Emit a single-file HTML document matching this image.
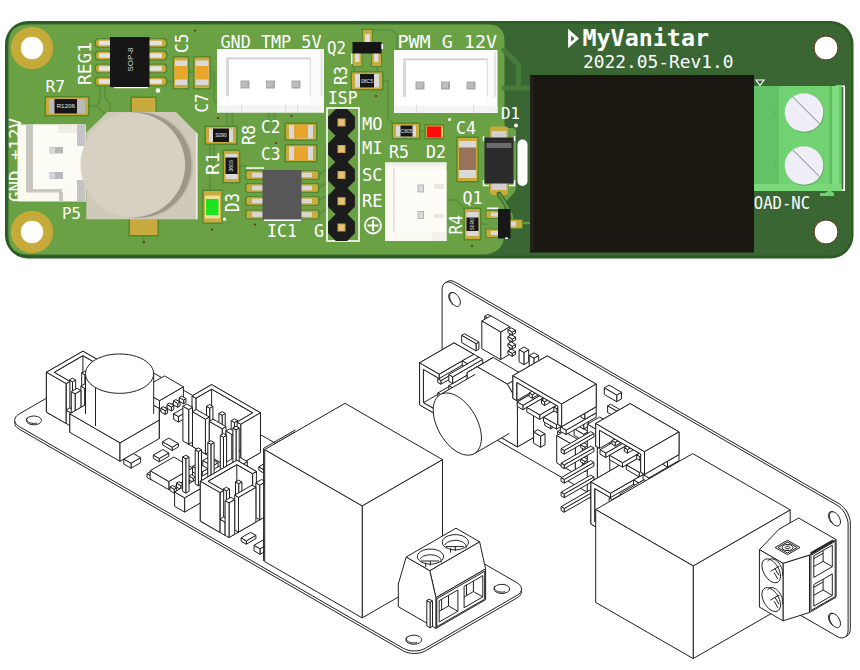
<!DOCTYPE html>
<html lang="en"><head><meta charset="utf-8"><title>MyVanitar PCB</title>
<style>
html,body{margin:0;padding:0;background:#fff;}
body{width:860px;height:670px;overflow:hidden;font-family:"Liberation Sans",sans-serif;}
svg{display:block;position:absolute;left:0;top:0;}
</style></head><body>
<svg width="860" height="670" viewBox="0 0 860 670">
<rect x="5" y="21" width="848.5" height="237.5" fill="#2b5c23" rx="23"/>
<rect x="7.5" y="23.5" width="843.5" height="232" fill="#3a6634" rx="20.5"/>
<path d="M28 24.5 H488 Q504.5 24.5 504.5 41 V124 Q504.5 128 509 128 H512 Q516 128 516 132 V186 Q516 192 511 196 L506.5 201 Q504.5 203 504.5 208 V232 Q504.5 254.5 482 254.5 H28 Q8.5 254.5 8.5 235 V44 Q8.5 24.5 28 24.5Z" fill="#6aa145"/>
<path d="M504 50 L518.5 65 V86 M504 88 H530" fill="none" stroke="#487c3b" stroke-width="5" stroke-linecap="round" stroke-linejoin="round"/>
<path d="M227 113 V127 M232.5 113 V127" fill="none" stroke="#5b9340" stroke-width="2.2" stroke-linecap="round" stroke-linejoin="round"/>
<path d="M269 113 V122 M274.5 113 V122 M269 122 Q262 126 268 131" fill="none" stroke="#5b9340" stroke-width="2.2" stroke-linecap="round" stroke-linejoin="round"/>
<path d="M210 143.5 V190 M214 143.5 V165" fill="none" stroke="#5b9340" stroke-width="2.2" stroke-linecap="round" stroke-linejoin="round"/>
<path d="M236 166 H246 V175" fill="none" stroke="#5b9340" stroke-width="2.2" stroke-linecap="round" stroke-linejoin="round"/>
<path d="M318 175 L326 170 V150 M318 188 L328 182 M318 201 L330 194 M318 214.5 L332 206" fill="none" stroke="#5b9340" stroke-width="2.2" stroke-linecap="round" stroke-linejoin="round"/>
<path d="M88 106 H97 L104 113 M100 86 V100 L97 106 M105 86 V98 L110 104 V112" fill="none" stroke="#5b9340" stroke-width="2.2" stroke-linecap="round" stroke-linejoin="round"/>
<path d="M166 81.5 H174 M188 72 H194.5" fill="none" stroke="#5b9340" stroke-width="2.2" stroke-linecap="round" stroke-linejoin="round"/>
<path d="M209.5 72 H214 V100 L218 104" fill="none" stroke="#5b9340" stroke-width="2.2" stroke-linecap="round" stroke-linejoin="round"/>
<path d="M367.5 30 H392 L397 35 V50" fill="none" stroke="#5b9340" stroke-width="2.2" stroke-linecap="round" stroke-linejoin="round"/>
<path d="M382 81 H388 V118 L393 124" fill="none" stroke="#5b9340" stroke-width="2.2" stroke-linecap="round" stroke-linejoin="round"/>
<path d="M354 66 V72 M377 66 V72" fill="none" stroke="#5b9340" stroke-width="2.2" stroke-linecap="round" stroke-linejoin="round"/>
<path d="M419 131 H426" fill="none" stroke="#5b9340" stroke-width="2.2" stroke-linecap="round" stroke-linejoin="round"/>
<path d="M446.5 200 H456 L465 209" fill="none" stroke="#5b9340" stroke-width="2.2" stroke-linecap="round" stroke-linejoin="round"/>
<path d="M480 224 H487" fill="none" stroke="#5b9340" stroke-width="2.2" stroke-linecap="round" stroke-linejoin="round"/>
<path d="M143.5 235 V244" fill="none" stroke="#5b9340" stroke-width="2.2" stroke-linecap="round" stroke-linejoin="round"/>
<circle cx="291.5" cy="116" r="1.1" fill="#6e2a1c"/>
<circle cx="276" cy="143" r="1.1" fill="#6e2a1c"/>
<circle cx="255" cy="224.5" r="1.1" fill="#6e2a1c"/>
<circle cx="212" cy="229.5" r="1.1" fill="#6e2a1c"/>
<circle cx="195" cy="30.5" r="1.1" fill="#6e2a1c"/>
<circle cx="376" cy="96" r="1.1" fill="#6e2a1c"/>
<circle cx="144" cy="242" r="1.1" fill="#6e2a1c"/>
<circle cx="472" cy="246" r="1.1" fill="#6e2a1c"/>
<circle cx="250" cy="133" r="1.1" fill="#6e2a1c"/>
<circle cx="218" cy="118" r="1.1" fill="#6e2a1c"/>
<circle cx="32" cy="48" r="21.2" fill="#c7ab3a"/>
<circle cx="32" cy="48" r="11.2" fill="#ffffff"/>
<circle cx="826" cy="48" r="12" fill="#ffffff" stroke="#5b3018" stroke-width="1"/>
<circle cx="32" cy="232" r="21.2" fill="#c7ab3a"/>
<circle cx="32" cy="232" r="11.2" fill="#ffffff"/>
<circle cx="826" cy="232" r="12" fill="#ffffff" stroke="#5b3018" stroke-width="1"/>
<rect x="94.5" y="38" width="16.5" height="10" fill="#55872f" rx="4"/>
<rect x="148" y="38" width="19.5" height="10" fill="#55872f" rx="4"/>
<rect x="96" y="39.3" width="15" height="7.4" fill="#c9aa3c" rx="3.5"/>
<rect x="148" y="39.3" width="18" height="7.4" fill="#c9aa3c" rx="3.5"/>
<rect x="99" y="40.7" width="12" height="4.6" fill="#e4e4e4" rx="1"/>
<rect x="148" y="40.7" width="14" height="4.6" fill="#e4e4e4" rx="1"/>
<rect x="94.5" y="50.5" width="16.5" height="10" fill="#55872f" rx="4"/>
<rect x="148" y="50.5" width="19.5" height="10" fill="#55872f" rx="4"/>
<rect x="96" y="51.8" width="15" height="7.4" fill="#c9aa3c" rx="3.5"/>
<rect x="148" y="51.8" width="18" height="7.4" fill="#c9aa3c" rx="3.5"/>
<rect x="99" y="53.2" width="12" height="4.6" fill="#e4e4e4" rx="1"/>
<rect x="148" y="53.2" width="14" height="4.6" fill="#e4e4e4" rx="1"/>
<rect x="94.5" y="63.5" width="16.5" height="10" fill="#55872f" rx="4"/>
<rect x="148" y="63.5" width="19.5" height="10" fill="#55872f" rx="4"/>
<rect x="96" y="64.8" width="15" height="7.4" fill="#c9aa3c" rx="3.5"/>
<rect x="148" y="64.8" width="18" height="7.4" fill="#c9aa3c" rx="3.5"/>
<rect x="99" y="66.2" width="12" height="4.6" fill="#e4e4e4" rx="1"/>
<rect x="148" y="66.2" width="14" height="4.6" fill="#e4e4e4" rx="1"/>
<rect x="94.5" y="76.5" width="16.5" height="10" fill="#55872f" rx="4"/>
<rect x="148" y="76.5" width="19.5" height="10" fill="#55872f" rx="4"/>
<rect x="96" y="77.8" width="15" height="7.4" fill="#c9aa3c" rx="3.5"/>
<rect x="148" y="77.8" width="18" height="7.4" fill="#c9aa3c" rx="3.5"/>
<rect x="99" y="79.2" width="12" height="4.6" fill="#e4e4e4" rx="1"/>
<rect x="148" y="79.2" width="14" height="4.6" fill="#e4e4e4" rx="1"/>
<rect x="110" y="37" width="39.5" height="50" fill="#161616"/>
<rect x="114" y="87" width="34" height="1.2" fill="#ffffff"/>
<text x="130" y="59.5" font-size="7" fill="#d0d0d0" text-anchor="middle" font-family="'Liberation Sans',sans-serif" transform="rotate(-90 130 59.5)" dy="2.8" style="font-size:8px">SOP-8</text>
<circle cx="158" cy="90.5" r="2.3" fill="#ffffff"/>
<text x="90.5" y="85" font-size="18.5185" fill="#fff" font-family="'DejaVu Sans Mono','Liberation Mono',monospace" font-weight="normal" text-anchor="start" transform="rotate(-90 90.5 85)" textLength="43" lengthAdjust="spacingAndGlyphs">REG1</text>
<rect x="172.5" y="56" width="17" height="33.5" fill="#55872f" rx="1"/>
<rect x="174" y="57.5" width="14" height="30.5" fill="#c9aa3c" rx="1"/>
<rect x="175" y="60.5" width="12" height="24.5" fill="#d9d9d9"/>
<rect x="175" y="66" width="12" height="13.5" fill="#e8a52c"/>
<rect x="193" y="56" width="18" height="33.5" fill="#55872f" rx="1"/>
<rect x="194.5" y="57.5" width="15" height="30.5" fill="#c9aa3c" rx="1"/>
<rect x="195.5" y="60.5" width="13" height="24.5" fill="#d9d9d9"/>
<rect x="195.5" y="66" width="13" height="13.5" fill="#e8a52c"/>
<text x="187.5" y="53" font-size="17.1468" fill="#fff" font-family="'DejaVu Sans Mono','Liberation Mono',monospace" font-weight="normal" text-anchor="start" transform="rotate(-90 187.5 53)" textLength="19.5" lengthAdjust="spacingAndGlyphs">C5</text>
<text x="208" y="112.5" font-size="17.8326" fill="#fff" font-family="'DejaVu Sans Mono','Liberation Mono',monospace" font-weight="normal" text-anchor="start" transform="rotate(-90 208 112.5)" textLength="19" lengthAdjust="spacingAndGlyphs">C7</text>
<text x="45.5" y="92" font-size="16.4609" fill="#fff" font-family="'DejaVu Sans Mono','Liberation Mono',monospace" font-weight="normal" text-anchor="start" textLength="19.5" lengthAdjust="spacingAndGlyphs">R7</text>
<rect x="44.5" y="96" width="45" height="20.5" fill="#55872f" rx="1"/>
<rect x="46" y="97.5" width="42" height="17.5" fill="#c9aa3c" rx="1"/>
<rect x="49" y="99" width="36" height="14.5" fill="#b9b9b9"/>
<rect x="54.5" y="99" width="22.5" height="14.5" fill="#161616"/>
<text x="65.75" y="108.482" font-size="6.2" fill="#e8e8e8" font-family="'Liberation Sans',sans-serif" font-weight="normal" text-anchor="middle">R1206</text>
<text x="20.5" y="202" font-size="15.0892" fill="#fff" font-family="'DejaVu Sans Mono','Liberation Mono',monospace" font-weight="normal" text-anchor="start" transform="rotate(-90 20.5 202)" textLength="84" lengthAdjust="spacingAndGlyphs">GND +12V</text>
<rect x="17.5" y="124.5" width="68.5" height="77" fill="#fbfaf0"/>
<rect x="26" y="124.5" width="7" height="67.5" fill="#c9c8c0"/>
<rect x="26" y="189" width="36" height="3.5" fill="#c9c8c0"/>
<rect x="59" y="192" width="4" height="9.5" fill="#c9c8c0"/>
<rect x="33" y="124.5" width="47" height="64.5" fill="#fdfcf4"/>
<rect x="58" y="124.5" width="26" height="8.5" fill="#efeee6"/>
<rect x="77" y="124.5" width="8.5" height="21.5" fill="#c4c4c4"/>
<rect x="77" y="180" width="8.5" height="21" fill="#c4c4c4"/>
<rect x="49.5" y="147" width="13.5" height="6.5" fill="#b8b8b8"/>
<rect x="50" y="147.5" width="5" height="5.5" fill="#d6d6da"/>
<rect x="49.5" y="172" width="13.5" height="7" fill="#b8b8b8"/>
<rect x="50" y="172.5" width="5" height="6" fill="#d6d6da"/>
<text x="62" y="218.5" font-size="16.4609" fill="#fff" font-family="'DejaVu Sans Mono','Liberation Mono',monospace" font-weight="normal" text-anchor="start" textLength="19" lengthAdjust="spacingAndGlyphs">P5</text>
<rect x="130.5" y="96.5" width="26.5" height="16.5" fill="#55872f"/>
<rect x="132" y="98" width="23.5" height="15" fill="#c9aa3c"/>
<rect x="128.5" y="219" width="30.5" height="17.5" fill="#55872f"/>
<rect x="130" y="219" width="27.5" height="16" fill="#c9aa3c"/>
<path d="M86.3 219.3 V132.5 L107.5 112 H176 L197.5 133.7 V219.3Z" fill="#cfc9ba"/>
<path d="M195.8 132 L197.5 133.7 V219.3 H195.8Z" fill="#ece8dc"/>
<circle cx="140" cy="165" r="53" fill="#bcb6a6"/>
<circle cx="138.6" cy="165" r="52.6" fill="#9d9786"/>
<circle cx="132.8" cy="165" r="52.3" fill="#d7d1c3"/>
<rect x="204.5" y="125.5" width="33" height="19.5" fill="#55872f" rx="1"/>
<rect x="206" y="127" width="30" height="16.5" fill="#c9aa3c" rx="1"/>
<rect x="209" y="128.5" width="24" height="13.5" fill="#d9d9d9"/>
<rect x="213" y="128.5" width="16" height="13.5" fill="#161616"/>
<text x="221" y="137.05" font-size="5" fill="#e8e8e8" font-family="'Liberation Sans',sans-serif" font-weight="normal" text-anchor="middle">S090</text>
<text x="254.5" y="145" font-size="18.5185" fill="#fff" font-family="'DejaVu Sans Mono','Liberation Mono',monospace" font-weight="normal" text-anchor="start" transform="rotate(-90 254.5 145)" textLength="20" lengthAdjust="spacingAndGlyphs">R8</text>
<rect x="222.5" y="149.5" width="18" height="34" fill="#55872f" rx="1"/>
<rect x="224" y="151" width="15" height="31" fill="#c9aa3c" rx="1"/>
<rect x="225.5" y="154" width="12" height="25" fill="#d9d9d9"/>
<rect x="225.5" y="157.5" width="12" height="16.5" fill="#161616"/>
<text x="231.5" y="165.75" font-size="5" fill="#e8e8e8" text-anchor="middle" font-family="'Liberation Sans',sans-serif" transform="rotate(-90 231.5 165.75)" dy="1.8">360S</text>
<text x="219" y="175" font-size="17.8326" fill="#fff" font-family="'DejaVu Sans Mono','Liberation Mono',monospace" font-weight="normal" text-anchor="start" transform="rotate(-90 219 175)" textLength="23" lengthAdjust="spacingAndGlyphs">R1</text>
<rect x="202" y="189.5" width="20.5" height="34.5" fill="#55872f"/>
<rect x="203.5" y="191" width="18" height="31.5" fill="#c9aa3c"/>
<rect x="205" y="195.5" width="15" height="23" fill="#eadf9a"/>
<rect x="206" y="199" width="12.5" height="16" fill="#1fe31f"/>
<text x="238.5" y="212" font-size="19.2044" fill="#fff" font-family="'DejaVu Sans Mono','Liberation Mono',monospace" font-weight="normal" text-anchor="start" transform="rotate(-90 238.5 212)" textLength="19" lengthAdjust="spacingAndGlyphs">D3</text>
<circle cx="224.5" cy="219.2" r="1.6" fill="#ffffff"/>
<text x="220.5" y="47.5" font-size="17.1468" fill="#fff" font-family="'DejaVu Sans Mono','Liberation Mono',monospace" font-weight="normal" text-anchor="start" textLength="101" lengthAdjust="spacingAndGlyphs">GND TMP 5V</text>
<rect x="217" y="49" width="107" height="63.5" fill="#fbfbfb"/>
<rect x="226" y="57.5" width="85" height="2" fill="#cfcfcf"/>
<rect x="226" y="57.5" width="3" height="39" fill="#d9d9d9"/>
<rect x="309.5" y="57.5" width="1.5" height="39" fill="#e2e2e2"/>
<rect x="320.5" y="51" width="2" height="45.5" fill="#e4e4e4"/>
<rect x="229" y="59.5" width="80.5" height="45" fill="#ffffff"/>
<rect x="220" y="96.5" width="8" height="9" fill="#ffffff"/>
<rect x="240.5" y="80.5" width="9" height="8" fill="#a9a9a9"/>
<rect x="241.5" y="81.5" width="6" height="5.5" fill="#bdbdbd"/>
<rect x="266" y="80.5" width="9" height="8" fill="#a9a9a9"/>
<rect x="267" y="81.5" width="6" height="5.5" fill="#bdbdbd"/>
<rect x="291.5" y="80.5" width="9" height="8" fill="#a9a9a9"/>
<rect x="292.5" y="81.5" width="6" height="5.5" fill="#bdbdbd"/>
<rect x="217" y="105.5" width="107" height="7" fill="#f4f4f4"/>
<rect x="241" y="104" width="1.2" height="8.5" fill="#e0e0e0"/>
<rect x="285" y="104" width="1.2" height="8.5" fill="#e0e0e0"/>
<rect x="297" y="104" width="1.2" height="8.5" fill="#e0e0e0"/>
<text x="397.5" y="47.5" font-size="17.1468" fill="#fff" font-family="'DejaVu Sans Mono','Liberation Mono',monospace" font-weight="normal" text-anchor="start" textLength="99.5" lengthAdjust="spacingAndGlyphs">PWM G 12V</text>
<rect x="394" y="50" width="103.5" height="63" fill="#fbfbfb"/>
<rect x="403" y="58.5" width="85" height="2" fill="#cfcfcf"/>
<rect x="403" y="58.5" width="3" height="38.5" fill="#d9d9d9"/>
<rect x="486.5" y="58.5" width="1.5" height="38.5" fill="#e2e2e2"/>
<rect x="494" y="52" width="2" height="45" fill="#e4e4e4"/>
<rect x="406" y="60.5" width="80.5" height="44.5" fill="#ffffff"/>
<rect x="397" y="97" width="8" height="9" fill="#ffffff"/>
<rect x="415.5" y="81.5" width="9" height="8" fill="#a9a9a9"/>
<rect x="416.5" y="82.5" width="6" height="5.5" fill="#bdbdbd"/>
<rect x="441" y="81.5" width="9" height="8" fill="#a9a9a9"/>
<rect x="442" y="82.5" width="6" height="5.5" fill="#bdbdbd"/>
<rect x="466.5" y="81.5" width="9" height="8" fill="#a9a9a9"/>
<rect x="467.5" y="82.5" width="6" height="5.5" fill="#bdbdbd"/>
<rect x="394" y="106" width="103.5" height="7" fill="#f4f4f4"/>
<rect x="416" y="105" width="1.2" height="8" fill="#e0e0e0"/>
<rect x="473" y="105" width="1.2" height="8" fill="#e0e0e0"/>
<text x="327" y="53.5" font-size="17.1468" fill="#fff" font-family="'DejaVu Sans Mono','Liberation Mono',monospace" font-weight="normal" text-anchor="start" textLength="19" lengthAdjust="spacingAndGlyphs">Q2</text>
<rect x="362" y="29" width="11" height="15" fill="#55872f"/>
<rect x="363" y="30" width="9" height="13" fill="#c9aa3c"/>
<rect x="352" y="51" width="10.5" height="16" fill="#55872f"/>
<rect x="353" y="52" width="8.5" height="14" fill="#c9aa3c"/>
<rect x="371" y="51" width="11" height="16" fill="#55872f"/>
<rect x="372" y="52" width="9" height="14" fill="#c9aa3c"/>
<rect x="365" y="34" width="5" height="8" fill="#dedede"/>
<rect x="355" y="53" width="4.5" height="9" fill="#dedede"/>
<rect x="374" y="53" width="4.5" height="9" fill="#dedede"/>
<rect x="352.5" y="42" width="29" height="11.5" fill="#151515"/>
<rect x="351" y="53.5" width="1.5" height="10.5" fill="#ffffff"/>
<rect x="381.5" y="44" width="1.5" height="5" fill="#ffffff"/>
<text x="347" y="85" font-size="18.5185" fill="#fff" font-family="'DejaVu Sans Mono','Liberation Mono',monospace" font-weight="normal" text-anchor="start" transform="rotate(-90 347 85)" textLength="19" lengthAdjust="spacingAndGlyphs">R3</text>
<rect x="350.5" y="71" width="33" height="19.5" fill="#55872f" rx="1"/>
<rect x="352" y="72.5" width="30" height="16.5" fill="#c9aa3c" rx="1"/>
<rect x="355" y="74" width="24" height="13.5" fill="#d9d9d9"/>
<rect x="360" y="74" width="14" height="13.5" fill="#161616"/>
<text x="367" y="82.55" font-size="5" fill="#e8e8e8" font-family="'Liberation Sans',sans-serif" font-weight="normal" text-anchor="middle">08C5</text>
<text x="328" y="104" font-size="17.1468" fill="#fff" font-family="'DejaVu Sans Mono','Liberation Mono',monospace" font-weight="normal" text-anchor="start" textLength="29.5" lengthAdjust="spacingAndGlyphs">ISP</text>
<rect x="327" y="108" width="32" height="133" fill="none" stroke="#ffffff" stroke-width="1.6"/>
<path d="M335.872 109.1 H347.128 L354.9 116.872 V128.128 L347.128 135.9 H335.872 L328.1 128.128 V116.872Z" fill="#1c1c1c"/>
<path d="M335.872 135.6 H347.128 L354.9 143.372 V154.628 L347.128 162.4 H335.872 L328.1 154.628 V143.372Z" fill="#1c1c1c"/>
<path d="M335.872 161.6 H347.128 L354.9 169.372 V180.628 L347.128 188.4 H335.872 L328.1 180.628 V169.372Z" fill="#1c1c1c"/>
<path d="M335.872 187.8 H347.128 L354.9 195.572 V206.828 L347.128 214.6 H335.872 L328.1 206.828 V195.572Z" fill="#1c1c1c"/>
<path d="M335.872 214.1 H347.128 L354.9 221.872 V233.128 L347.128 240.9 H335.872 L328.1 233.128 V221.872Z" fill="#1c1c1c"/>
<rect x="337.5" y="118.5" width="8" height="8" fill="#c9a24e"/>
<rect x="338.5" y="119.5" width="6" height="6" fill="#e3c27a"/>
<rect x="337.5" y="145" width="8" height="8" fill="#c9a24e"/>
<rect x="338.5" y="146" width="6" height="6" fill="#e3c27a"/>
<rect x="337.5" y="171" width="8" height="8" fill="#c9a24e"/>
<rect x="338.5" y="172" width="6" height="6" fill="#e3c27a"/>
<rect x="337.5" y="197.2" width="8" height="8" fill="#c9a24e"/>
<rect x="338.5" y="198.2" width="6" height="6" fill="#e3c27a"/>
<rect x="337.5" y="223.5" width="8" height="8" fill="#c9a24e"/>
<rect x="338.5" y="224.5" width="6" height="6" fill="#e3c27a"/>
<text x="362" y="129.5" font-size="17.1468" fill="#fff" font-family="'DejaVu Sans Mono','Liberation Mono',monospace" font-weight="normal" text-anchor="start" textLength="20.5" lengthAdjust="spacingAndGlyphs">MO</text>
<text x="362" y="154" font-size="17.1468" fill="#fff" font-family="'DejaVu Sans Mono','Liberation Mono',monospace" font-weight="normal" text-anchor="start" textLength="20.5" lengthAdjust="spacingAndGlyphs">MI</text>
<text x="362" y="180.5" font-size="17.1468" fill="#fff" font-family="'DejaVu Sans Mono','Liberation Mono',monospace" font-weight="normal" text-anchor="start" textLength="20.5" lengthAdjust="spacingAndGlyphs">SC</text>
<text x="362" y="206.5" font-size="17.1468" fill="#fff" font-family="'DejaVu Sans Mono','Liberation Mono',monospace" font-weight="normal" text-anchor="start" textLength="20.5" lengthAdjust="spacingAndGlyphs">RE</text>
<text x="314" y="237" font-size="17.1468" fill="#fff" font-family="'DejaVu Sans Mono','Liberation Mono',monospace" font-weight="normal" text-anchor="start" textLength="10" lengthAdjust="spacingAndGlyphs">G</text>
<circle cx="373" cy="225.5" r="8" fill="none" stroke="#fff" stroke-width="1.8"/><path d="M367.5 225.5 H378.5 M373 220 V231" stroke="#fff" stroke-width="1.8" fill="none"/>
<text x="261" y="133" font-size="17.1468" fill="#fff" font-family="'DejaVu Sans Mono','Liberation Mono',monospace" font-weight="normal" text-anchor="start" textLength="19.5" lengthAdjust="spacingAndGlyphs">C2</text>
<text x="261" y="160" font-size="17.1468" fill="#fff" font-family="'DejaVu Sans Mono','Liberation Mono',monospace" font-weight="normal" text-anchor="start" textLength="19.5" lengthAdjust="spacingAndGlyphs">C3</text>
<rect x="284.5" y="122.5" width="33" height="18.5" fill="#55872f" rx="1"/>
<rect x="286" y="124" width="30" height="15.5" fill="#c9aa3c" rx="1"/>
<rect x="289" y="125" width="24" height="13.5" fill="#d9d9d9"/>
<rect x="294" y="125" width="14" height="13.5" fill="#e8a52c"/>
<rect x="284.5" y="144" width="33" height="18.5" fill="#55872f" rx="1"/>
<rect x="286" y="145.5" width="30" height="15.5" fill="#c9aa3c" rx="1"/>
<rect x="289" y="146.5" width="24" height="13.5" fill="#d9d9d9"/>
<rect x="294" y="146.5" width="14" height="13.5" fill="#e8a52c"/>
<rect x="245" y="170" width="18" height="10" fill="#55872f" rx="2"/>
<rect x="300" y="170" width="19.5" height="10" fill="#55872f" rx="2"/>
<rect x="246.5" y="171.3" width="16.5" height="7.4" fill="#c9aa3c" rx="1.5"/>
<rect x="300" y="171.3" width="18" height="7.4" fill="#c9aa3c" rx="1.5"/>
<rect x="252" y="172.7" width="11" height="4.6" fill="#d8d8d8"/>
<rect x="300" y="172.7" width="12" height="4.6" fill="#d8d8d8"/>
<rect x="245" y="183" width="18" height="10" fill="#55872f" rx="2"/>
<rect x="300" y="183" width="19.5" height="10" fill="#55872f" rx="2"/>
<rect x="246.5" y="184.3" width="16.5" height="7.4" fill="#c9aa3c" rx="1.5"/>
<rect x="300" y="184.3" width="18" height="7.4" fill="#c9aa3c" rx="1.5"/>
<rect x="252" y="185.7" width="11" height="4.6" fill="#d8d8d8"/>
<rect x="300" y="185.7" width="12" height="4.6" fill="#d8d8d8"/>
<rect x="245" y="196" width="18" height="10" fill="#55872f" rx="2"/>
<rect x="300" y="196" width="19.5" height="10" fill="#55872f" rx="2"/>
<rect x="246.5" y="197.3" width="16.5" height="7.4" fill="#c9aa3c" rx="1.5"/>
<rect x="300" y="197.3" width="18" height="7.4" fill="#c9aa3c" rx="1.5"/>
<rect x="252" y="198.7" width="11" height="4.6" fill="#d8d8d8"/>
<rect x="300" y="198.7" width="12" height="4.6" fill="#d8d8d8"/>
<rect x="245" y="209.5" width="18" height="10" fill="#55872f" rx="2"/>
<rect x="300" y="209.5" width="19.5" height="10" fill="#55872f" rx="2"/>
<rect x="246.5" y="210.8" width="16.5" height="7.4" fill="#c9aa3c" rx="1.5"/>
<rect x="300" y="210.8" width="18" height="7.4" fill="#c9aa3c" rx="1.5"/>
<rect x="252" y="212.2" width="11" height="4.6" fill="#d8d8d8"/>
<rect x="300" y="212.2" width="12" height="4.6" fill="#d8d8d8"/>
<rect x="262.5" y="170" width="39" height="49.5" fill="#575757"/>
<rect x="246" y="167.3" width="18" height="1.5" fill="#ffffff"/>
<rect x="264" y="219.5" width="37" height="1.5" fill="#ffffff"/>
<text x="267" y="237" font-size="17.1468" fill="#fff" font-family="'DejaVu Sans Mono','Liberation Mono',monospace" font-weight="normal" text-anchor="start" textLength="30" lengthAdjust="spacingAndGlyphs">IC1</text>
<rect x="391.5" y="122.5" width="29" height="17" fill="#55872f" rx="1"/>
<rect x="393" y="124" width="26" height="14" fill="#c9aa3c" rx="1"/>
<rect x="396" y="125.5" width="20" height="11" fill="#d9d9d9"/>
<rect x="400.5" y="125.5" width="12" height="11" fill="#161616"/>
<text x="406.5" y="132.8" font-size="5" fill="#e8e8e8" font-family="'Liberation Sans',sans-serif" font-weight="normal" text-anchor="middle">C805</text>
<text x="389" y="158" font-size="17.1468" fill="#fff" font-family="'DejaVu Sans Mono','Liberation Mono',monospace" font-weight="normal" text-anchor="start" textLength="20" lengthAdjust="spacingAndGlyphs">R5</text>
<rect x="424.5" y="124" width="19.5" height="15.5" fill="#55872f"/>
<rect x="426" y="125.5" width="17" height="12.5" fill="#c9aa3c"/>
<rect x="427" y="126.5" width="14" height="11" fill="#ff0a0a"/>
<rect x="441" y="128" width="2" height="8" fill="#f2e25a"/>
<circle cx="449.5" cy="119.5" r="1.5" fill="#ffffff"/>
<text x="426" y="158" font-size="17.1468" fill="#fff" font-family="'DejaVu Sans Mono','Liberation Mono',monospace" font-weight="normal" text-anchor="start" textLength="20" lengthAdjust="spacingAndGlyphs">D2</text>
<text x="456" y="134" font-size="17.1468" fill="#fff" font-family="'DejaVu Sans Mono','Liberation Mono',monospace" font-weight="normal" text-anchor="start" textLength="20" lengthAdjust="spacingAndGlyphs">C4</text>
<rect x="456" y="136.5" width="23" height="46" fill="#55872f" rx="1"/>
<rect x="457.5" y="138" width="20" height="43" fill="#c9aa3c" rx="1"/>
<rect x="459" y="141" width="17" height="37" fill="#d9d9d9"/>
<rect x="459" y="147.5" width="17" height="22.5" fill="#98735a"/>
<rect x="385" y="162.5" width="61.5" height="78.5" fill="#fbfaf2"/>
<rect x="394" y="170" width="52.5" height="62" fill="#fdfcf6"/>
<rect x="385" y="162.5" width="61.5" height="3.5" fill="#f1f0e8"/>
<rect x="393" y="168" width="2" height="65" fill="#e6e5dc"/>
<rect x="434" y="184" width="10" height="5" fill="#e9e8e0"/>
<rect x="434" y="214" width="10" height="4" fill="#e9e8e0"/>
<rect x="432" y="232" width="14.5" height="9" fill="#f3f2ea"/>
<rect x="417.5" y="184.5" width="6.5" height="8" fill="#b5b5b5"/>
<rect x="418.5" y="185.5" width="4.5" height="6" fill="#d9d9de"/>
<rect x="417.5" y="211" width="6.5" height="8" fill="#b5b5b5"/>
<rect x="418.5" y="212" width="4.5" height="6" fill="#d9d9de"/>
<text x="501" y="119" font-size="16.4609" fill="#fff" font-family="'DejaVu Sans Mono','Liberation Mono',monospace" font-weight="normal" text-anchor="start" textLength="19" lengthAdjust="spacingAndGlyphs">D1</text>
<circle cx="516" cy="125.5" r="1.9" fill="#ffffff"/>
<rect x="490" y="126.5" width="18" height="13.5" fill="#c9aa3c" rx="3"/>
<rect x="490" y="181" width="18" height="14" fill="#c9aa3c" rx="3"/>
<rect x="491.5" y="131" width="15" height="7" fill="#d0d0d0"/>
<rect x="491.5" y="183" width="15" height="7" fill="#d0d0d0"/>
<path d="M483.5 136 V141 M483.5 180 V185.5 H489 M514.5 136 V141 M514.5 180 V185.5 H509" stroke="#fff" stroke-width="1.4" fill="none"/>
<rect x="484.5" y="137.5" width="29" height="46" fill="#2b2b2b" rx="1"/>
<rect x="486.5" y="143" width="25" height="5" fill="#6c6c6c"/>
<rect x="517.5" y="139.5" width="10" height="46.5" fill="#ffffff" rx="5"/>
<path d="M499 194 L505 203 L512 216 V223 H530" fill="none" stroke="#34602f" stroke-width="4.6" stroke-linecap="round" stroke-linejoin="round"/>
<path d="M499 194 L505 203 L512 216 V223 H530" fill="none" stroke="#5f9a42" stroke-width="2.6" stroke-linecap="round" stroke-linejoin="round"/>
<text x="462.5" y="203.5" font-size="17.1468" fill="#fff" font-family="'DejaVu Sans Mono','Liberation Mono',monospace" font-weight="normal" text-anchor="start" textLength="20" lengthAdjust="spacingAndGlyphs">Q1</text>
<text x="461.5" y="234.5" font-size="17.8326" fill="#fff" font-family="'DejaVu Sans Mono','Liberation Mono',monospace" font-weight="normal" text-anchor="start" transform="rotate(-90 461.5 234.5)" textLength="19.5" lengthAdjust="spacingAndGlyphs">R4</text>
<rect x="463.5" y="207.5" width="18" height="33" fill="#55872f" rx="1"/>
<rect x="465" y="209" width="15" height="30" fill="#c9aa3c" rx="1"/>
<rect x="466.5" y="212" width="12" height="24" fill="#d9d9d9"/>
<rect x="466.5" y="217.5" width="12" height="13.5" fill="#161616"/>
<text x="472.5" y="224.25" font-size="5" fill="#e8e8e8" text-anchor="middle" font-family="'Liberation Sans',sans-serif" transform="rotate(-90 472.5 224.25)" dy="1.8">S0R0</text>
<rect x="485.5" y="210" width="14.5" height="9" fill="#55872f"/>
<rect x="486.5" y="211" width="12.5" height="7" fill="#c9aa3c" rx="1"/>
<rect x="485.5" y="228.5" width="14.5" height="9.5" fill="#55872f"/>
<rect x="486.5" y="229.5" width="12.5" height="7.5" fill="#c9aa3c" rx="1"/>
<rect x="509" y="219" width="14" height="10" fill="#55872f"/>
<rect x="510" y="220" width="12" height="8" fill="#c9aa3c" rx="1"/>
<rect x="491" y="212.5" width="7" height="4" fill="#d8d8d8"/>
<rect x="491" y="231" width="7" height="4" fill="#d8d8d8"/>
<rect x="510.5" y="221.5" width="5.5" height="5" fill="#d8d8d8"/>
<rect x="498" y="209" width="12.5" height="29.5" fill="#171717"/>
<rect x="487" y="207.5" width="11.5" height="1.5" fill="#ffffff"/>
<rect x="505" y="237.5" width="3" height="1.5" fill="#ffffff"/>
<path d="M569.6 32.2 L576.8 38.6 L569.6 45 Z" fill="none" stroke="#fff" stroke-width="3" stroke-linejoin="miter"/>
<text x="582.5" y="46.3" font-size="23" fill="#fff" font-family="'DejaVu Sans Mono','Liberation Mono',monospace" font-weight="bold" text-anchor="start" textLength="126.5" lengthAdjust="spacingAndGlyphs">MyVanitar</text>
<text x="583" y="67.5" font-size="17.5" fill="#fff" font-family="'DejaVu Sans Mono','Liberation Mono',monospace" font-weight="normal" text-anchor="start" textLength="150.5" lengthAdjust="spacingAndGlyphs">2022.05-Rev1.0</text>
<text x="744.5" y="209" font-size="17.2" fill="#fff" font-family="'DejaVu Sans Mono','Liberation Mono',monospace" font-weight="normal" text-anchor="start" textLength="65.5" lengthAdjust="spacingAndGlyphs">LOAD-NC</text>
<path d="M756 80 H764 L760 85.5Z" fill="none" stroke="#fff" stroke-width="1.2"/>
<rect x="836" y="85.5" width="9" height="105.5" fill="#ffffff"/>
<rect x="836" y="87" width="7.3" height="102.5" fill="#3a6634"/>
<rect x="754" y="86" width="87.5" height="105" fill="#70d270"/>
<rect x="754" y="86" width="25" height="105" fill="#63c266"/>
<rect x="829.5" y="86" width="2.5" height="105" fill="#5dbb5d"/>
<rect x="832" y="86" width="7" height="105" fill="#7ddc7d"/>
<rect x="839" y="86" width="2.5" height="105" fill="#66c866"/>
<rect x="754" y="184" width="87.5" height="7" fill="#7bd97b"/>
<path d="M774 108.5 l2 4 l-2 4z M774 161 l2 4 l-2 4z" fill="#58b858"/>
<path d="M820 196 H834 V193 L829.5 190 L825 193 H820Z" fill="#6fd06f"/>
<circle cx="804.5" cy="113.2" r="19.6" fill="#58ad58"/>
<circle cx="804" cy="112.5" r="19.3" fill="#efedf6"/>
<path d="M792.5 96.5 L819.5 123.5" stroke="#b4b2bc" stroke-width="1.6" fill="none"/>
<path d="M793.5 95.5 L820.5 122.5" stroke="#ffffff" stroke-width="1" fill="none"/>
<circle cx="804.5" cy="166.2" r="19.6" fill="#58ad58"/>
<circle cx="804" cy="165.5" r="19.3" fill="#efedf6"/>
<path d="M792.5 149.5 L819.5 176.5" stroke="#b4b2bc" stroke-width="1.6" fill="none"/>
<path d="M793.5 148.5 L820.5 175.5" stroke="#ffffff" stroke-width="1" fill="none"/>
<rect x="530" y="75" width="224" height="177.5" fill="#1a1711"/>
<rect x="530" y="77" width="3.5" height="173" fill="#24211a"/>
<g id="isoL"><path d="M516.9 585.2 L518.9 586.6 L520.3 588.2 L521.2 589.8 L521.5 591.6 L521.2 593.4 L520.3 595.0 L518.9 596.6 L516.9 598.0 L425.3 650.9 L422.9 652.0 L420.2 652.8 L417.3 653.3 L414.3 653.5 L411.3 653.3 L408.3 652.8 L405.6 652.0 L403.3 650.9 L19.3 429.2 L17.4 427.8 L15.9 426.3 L15.0 424.6 L14.7 422.8 L15.0 421.1 L15.9 419.4 L17.4 417.8 L19.3 416.5 L110.9 363.6 L113.3 362.4 L116.0 361.6 L118.9 361.1 L121.9 360.9 L125.0 361.1 L127.9 361.6 L130.6 362.4 L132.9 363.6Z" fill="#fff" stroke="#202020" stroke-width="1.0" stroke-linejoin="round"/>
<path d="M516.9 582.7 L518.9 584.1 L520.3 585.6 L521.2 587.3 L521.5 589.1 L521.2 590.8 L520.3 592.5 L518.9 594.1 L516.9 595.4 L425.3 648.3 L422.9 649.4 L420.2 650.3 L417.3 650.8 L414.3 650.9 L411.3 650.8 L408.3 650.3 L405.6 649.4 L403.3 648.3 L19.3 426.6 L17.4 425.3 L15.9 423.7 L15.0 422.0 L14.7 420.3 L15.0 418.5 L15.9 416.8 L17.4 415.3 L19.3 413.9 L110.9 361.0 L113.3 359.9 L116.0 359.1 L118.9 358.6 L121.9 358.4 L125.0 358.6 L127.9 359.1 L130.6 359.9 L132.9 361.0Z" fill="#fff" stroke="#202020" stroke-width="1.0" stroke-linejoin="round"/>
<path d="M127.3 372.7 L125.7 373.4 L123.9 373.8 L121.9 374.0 L120.0 373.8 L118.1 373.4 L116.6 372.7 L115.4 371.8 L114.6 370.7 L114.3 369.6 L114.6 368.4 L115.4 367.4 L116.6 366.5 L118.1 365.8 L120.0 365.4 L121.9 365.2 L123.9 365.4 L125.7 365.8 L127.3 366.5 L128.5 367.4 L129.2 368.4 L129.5 369.6 L129.2 370.7 L128.5 371.8 L127.3 372.7Z" fill="#fff" stroke="#202020" stroke-width="1.0" stroke-linejoin="round"/>
<path d="M125.0 372.2 L123.8 372.5 L122.6 372.6 L121.3 372.6 L120.0 372.5 L118.8 372.2 L117.7 371.8 L116.7 371.4 L115.9 370.8 L115.3 370.2 L114.8 369.5 L114.6 368.7 L114.6 368.0 L114.8 367.3 L115.3 366.6" fill="none" stroke="#202020" stroke-width="1.0" stroke-linejoin="round"/>
<path d="M39.2 423.5 L37.7 424.2 L35.8 424.6 L33.9 424.8 L31.9 424.6 L30.1 424.2 L28.5 423.5 L27.3 422.6 L26.6 421.5 L26.3 420.4 L26.6 419.3 L27.3 418.2 L28.5 417.3 L30.1 416.6 L31.9 416.2 L33.9 416.0 L35.8 416.2 L37.7 416.6 L39.2 417.3 L40.4 418.2 L41.2 419.3 L41.5 420.4 L41.2 421.5 L40.4 422.6 L39.2 423.5Z" fill="#fff" stroke="#202020" stroke-width="1.0" stroke-linejoin="round"/>
<path d="M37.0 423.0 L35.8 423.3 L34.5 423.4 L33.2 423.4 L32.0 423.3 L30.8 423.0 L29.7 422.7 L28.7 422.2 L27.9 421.6 L27.2 421.0 L26.8 420.3 L26.6 419.6 L26.6 418.8 L26.8 418.1 L27.2 417.4" fill="none" stroke="#202020" stroke-width="1.0" stroke-linejoin="round"/>
<path d="M507.4 592.1 L505.8 592.8 L503.9 593.3 L501.9 593.5 L499.8 593.3 L497.9 592.8 L496.3 592.1 L495.1 591.2 L494.3 590.1 L494.0 588.9 L494.3 587.7 L495.1 586.7 L496.3 585.7 L497.9 585.0 L499.8 584.5 L501.9 584.4 L503.9 584.5 L505.8 585.0 L507.4 585.7 L508.7 586.7 L509.4 587.7 L509.7 588.9 L509.4 590.1 L508.7 591.2 L507.4 592.1Z" fill="#fff" stroke="#202020" stroke-width="1.0" stroke-linejoin="round"/>
<path d="M505.1 591.7 L503.8 592.0 L502.5 592.1 L501.2 592.1 L499.9 592.0 L498.6 591.7 L497.5 591.3 L496.5 590.8 L495.6 590.2 L495.0 589.6 L494.5 588.8 L494.3 588.1 L494.3 587.3 L494.5 586.6 L495.0 585.8" fill="none" stroke="#202020" stroke-width="1.0" stroke-linejoin="round"/>
<path d="M419.4 643.0 L417.7 643.7 L415.8 644.1 L413.8 644.3 L411.8 644.1 L409.9 643.7 L408.3 643.0 L407.0 642.0 L406.2 640.9 L406.0 639.8 L406.2 638.6 L407.0 637.5 L408.3 636.5 L409.9 635.8 L411.8 635.4 L413.8 635.2 L415.8 635.4 L417.7 635.8 L419.4 636.5 L420.6 637.5 L421.4 638.6 L421.7 639.8 L421.4 640.9 L420.6 642.0 L419.4 643.0Z" fill="#fff" stroke="#202020" stroke-width="1.0" stroke-linejoin="round"/>
<path d="M417.0 642.5 L415.8 642.8 L414.5 642.9 L413.1 642.9 L411.8 642.8 L410.6 642.5 L409.4 642.1 L408.4 641.6 L407.6 641.1 L406.9 640.4 L406.5 639.7 L406.2 638.9 L406.2 638.2 L406.5 637.4 L406.9 636.7" fill="none" stroke="#202020" stroke-width="1.0" stroke-linejoin="round"/>
<path d="M121.0 397.8 L114.7 401.3 L114.7 398.0 L121.0 394.4Z" fill="#fff" stroke="#202020" stroke-width="1.0" stroke-linejoin="round"/>
<path d="M100.4 393.1 L114.7 401.3 L114.7 398.0 L100.4 389.7Z" fill="#fff" stroke="#202020" stroke-width="1.0" stroke-linejoin="round"/>
<path d="M106.6 386.2 L121.0 394.4 L114.7 398.0 L100.4 389.7Z" fill="#fff" stroke="#202020" stroke-width="1.0" stroke-linejoin="round"/>
<path d="M162.8 389.1 L160.4 390.4 L160.4 386.6 L162.8 385.2Z" fill="#fff" stroke="#202020" stroke-width="1.0" stroke-linejoin="round"/>
<path d="M156.1 388.0 L160.4 390.4 L160.4 386.6 L156.1 384.1Z" fill="#fff" stroke="#202020" stroke-width="1.0" stroke-linejoin="round"/>
<path d="M158.5 382.7 L162.8 385.2 L160.4 386.6 L156.1 384.1Z" fill="#fff" stroke="#202020" stroke-width="1.0" stroke-linejoin="round"/>
<path d="M156.9 392.5 L154.5 393.9 L154.5 390.0 L156.9 388.6Z" fill="#fff" stroke="#202020" stroke-width="1.0" stroke-linejoin="round"/>
<path d="M150.2 391.4 L154.5 393.9 L154.5 390.0 L150.2 387.5Z" fill="#fff" stroke="#202020" stroke-width="1.0" stroke-linejoin="round"/>
<path d="M152.5 386.2 L156.9 388.6 L154.5 390.0 L150.2 387.5Z" fill="#fff" stroke="#202020" stroke-width="1.0" stroke-linejoin="round"/>
<path d="M150.6 396.1 L148.2 397.5 L148.2 393.6 L150.6 392.2Z" fill="#fff" stroke="#202020" stroke-width="1.0" stroke-linejoin="round"/>
<path d="M143.9 395.0 L148.2 397.5 L148.2 393.6 L143.9 391.1Z" fill="#fff" stroke="#202020" stroke-width="1.0" stroke-linejoin="round"/>
<path d="M146.3 389.7 L150.6 392.2 L148.2 393.6 L143.9 391.1Z" fill="#fff" stroke="#202020" stroke-width="1.0" stroke-linejoin="round"/>
<path d="M144.4 399.7 L142.0 401.1 L142.0 397.2 L144.4 395.8Z" fill="#fff" stroke="#202020" stroke-width="1.0" stroke-linejoin="round"/>
<path d="M137.7 398.6 L142.0 401.1 L142.0 397.2 L137.7 394.7Z" fill="#fff" stroke="#202020" stroke-width="1.0" stroke-linejoin="round"/>
<path d="M140.1 393.3 L144.4 395.8 L142.0 397.2 L137.7 394.7Z" fill="#fff" stroke="#202020" stroke-width="1.0" stroke-linejoin="round"/>
<path d="M183.4 397.3 L159.5 411.2 L159.5 400.7 L183.4 386.8Z" fill="#fff" stroke="#202020" stroke-width="1.0" stroke-linejoin="round"/>
<path d="M140.6 400.2 L159.5 411.2 L159.5 400.7 L140.6 389.7Z" fill="#fff" stroke="#202020" stroke-width="1.0" stroke-linejoin="round"/>
<path d="M164.5 375.9 L183.4 386.8 L159.5 400.7 L140.6 389.7Z" fill="#fff" stroke="#202020" stroke-width="1.0" stroke-linejoin="round"/>
<path d="M186.0 402.5 L183.7 403.8 L183.7 400.0 L186.0 398.6Z" fill="#fff" stroke="#202020" stroke-width="1.0" stroke-linejoin="round"/>
<path d="M179.3 401.3 L183.7 403.8 L183.7 400.0 L179.3 397.5Z" fill="#fff" stroke="#202020" stroke-width="1.0" stroke-linejoin="round"/>
<path d="M181.7 396.1 L186.0 398.6 L183.7 400.0 L179.3 397.5Z" fill="#fff" stroke="#202020" stroke-width="1.0" stroke-linejoin="round"/>
<path d="M180.1 405.9 L177.7 407.3 L177.7 403.4 L180.1 402.0Z" fill="#fff" stroke="#202020" stroke-width="1.0" stroke-linejoin="round"/>
<path d="M173.4 404.8 L177.7 407.3 L177.7 403.4 L173.4 400.9Z" fill="#fff" stroke="#202020" stroke-width="1.0" stroke-linejoin="round"/>
<path d="M175.8 399.6 L180.1 402.0 L177.7 403.4 L173.4 400.9Z" fill="#fff" stroke="#202020" stroke-width="1.0" stroke-linejoin="round"/>
<path d="M173.8 409.5 L171.4 410.9 L171.4 407.0 L173.8 405.6Z" fill="#fff" stroke="#202020" stroke-width="1.0" stroke-linejoin="round"/>
<path d="M167.1 408.4 L171.4 410.9 L171.4 407.0 L167.1 404.5Z" fill="#fff" stroke="#202020" stroke-width="1.0" stroke-linejoin="round"/>
<path d="M169.5 403.1 L173.8 405.6 L171.4 407.0 L167.1 404.5Z" fill="#fff" stroke="#202020" stroke-width="1.0" stroke-linejoin="round"/>
<path d="M167.6 413.1 L165.2 414.5 L165.2 410.6 L167.6 409.2Z" fill="#fff" stroke="#202020" stroke-width="1.0" stroke-linejoin="round"/>
<path d="M160.9 412.0 L165.2 414.5 L165.2 410.6 L160.9 408.1Z" fill="#fff" stroke="#202020" stroke-width="1.0" stroke-linejoin="round"/>
<path d="M163.3 406.7 L167.6 409.2 L165.2 410.6 L160.9 408.1Z" fill="#fff" stroke="#202020" stroke-width="1.0" stroke-linejoin="round"/>
<path d="M188.9 416.0 L178.4 422.1 L178.4 416.5 L188.9 410.5Z" fill="#fff" stroke="#202020" stroke-width="1.0" stroke-linejoin="round"/>
<path d="M173.6 419.3 L178.4 422.1 L178.4 416.5 L173.6 413.8Z" fill="#fff" stroke="#202020" stroke-width="1.0" stroke-linejoin="round"/>
<path d="M184.1 407.7 L188.9 410.5 L178.4 416.5 L173.6 413.8Z" fill="#fff" stroke="#202020" stroke-width="1.0" stroke-linejoin="round"/>
<path d="M86.8 393.2 L50.2 414.3 L50.2 374.5 L86.8 353.4Z" fill="#fff" stroke="#202020" stroke-width="1.0" stroke-linejoin="round"/>
<path d="M46.4 412.1 L50.2 414.3 L50.2 374.5 L46.4 372.3Z" fill="#fff" stroke="#202020" stroke-width="1.0" stroke-linejoin="round"/>
<path d="M82.9 351.2 L86.8 353.4 L50.2 374.5 L46.4 372.3Z" fill="#fff" stroke="#202020" stroke-width="1.0" stroke-linejoin="round"/>
<path d="M102.5 402.3 L98.7 404.5 L98.7 364.7 L102.5 362.5Z" fill="#fff" stroke="#202020" stroke-width="1.0" stroke-linejoin="round"/>
<path d="M82.9 395.4 L98.7 404.5 L98.7 364.7 L82.9 355.6Z" fill="#fff" stroke="#202020" stroke-width="1.0" stroke-linejoin="round"/>
<path d="M86.8 353.4 L102.5 362.5 L98.7 364.7 L82.9 355.6Z" fill="#fff" stroke="#202020" stroke-width="1.0" stroke-linejoin="round"/>
<path d="M107.8 405.4 L104.0 407.6 L104.0 394.3 L107.8 392.1Z" fill="#fff" stroke="#202020" stroke-width="1.0" stroke-linejoin="round"/>
<path d="M98.7 404.5 L104.0 407.6 L104.0 394.3 L98.7 391.3Z" fill="#fff" stroke="#202020" stroke-width="1.0" stroke-linejoin="round"/>
<path d="M102.5 389.1 L107.8 392.1 L104.0 394.3 L98.7 391.3Z" fill="#fff" stroke="#202020" stroke-width="1.0" stroke-linejoin="round"/>
<path d="M107.8 409.8 L79.0 426.4 L79.0 420.9 L107.8 404.2Z" fill="#fff" stroke="#202020" stroke-width="1.0" stroke-linejoin="round"/>
<path d="M54.1 412.1 L79.0 426.4 L79.0 420.9 L54.1 406.5Z" fill="#fff" stroke="#202020" stroke-width="1.0" stroke-linejoin="round"/>
<path d="M82.9 389.9 L107.8 404.2 L79.0 420.9 L54.1 406.5Z" fill="#fff" stroke="#202020" stroke-width="1.0" stroke-linejoin="round"/>
<path d="M88.0 400.5 L84.9 402.4 L84.9 374.7 L88.0 372.9Z" fill="#fff" stroke="#202020" stroke-width="1.0" stroke-linejoin="round"/>
<path d="M81.7 400.5 L84.9 402.4 L84.9 374.7 L81.7 372.9Z" fill="#fff" stroke="#202020" stroke-width="1.0" stroke-linejoin="round"/>
<path d="M84.9 371.1 L88.0 372.9 L84.9 374.7 L81.7 372.9Z" fill="#fff" stroke="#202020" stroke-width="1.0" stroke-linejoin="round"/>
<path d="M111.6 407.6 L105.9 410.9 L105.9 376.1 L111.6 372.8Z" fill="#fff" stroke="#202020" stroke-width="1.0" stroke-linejoin="round"/>
<path d="M102.1 408.7 L105.9 410.9 L105.9 376.1 L102.1 373.9Z" fill="#fff" stroke="#202020" stroke-width="1.0" stroke-linejoin="round"/>
<path d="M107.8 370.5 L111.6 372.8 L105.9 376.1 L102.1 373.9Z" fill="#fff" stroke="#202020" stroke-width="1.0" stroke-linejoin="round"/>
<path d="M75.7 407.7 L72.5 409.5 L72.5 381.9 L75.7 380.0Z" fill="#fff" stroke="#202020" stroke-width="1.0" stroke-linejoin="round"/>
<path d="M69.4 407.7 L72.5 409.5 L72.5 381.9 L69.4 380.0Z" fill="#fff" stroke="#202020" stroke-width="1.0" stroke-linejoin="round"/>
<path d="M72.5 378.2 L75.7 380.0 L72.5 381.9 L69.4 380.0Z" fill="#fff" stroke="#202020" stroke-width="1.0" stroke-linejoin="round"/>
<path d="M102.1 413.1 L84.7 423.1 L84.7 388.3 L102.1 378.3Z" fill="#fff" stroke="#202020" stroke-width="1.0" stroke-linejoin="round"/>
<path d="M80.9 420.9 L84.7 423.1 L84.7 388.3 L80.9 386.1Z" fill="#fff" stroke="#202020" stroke-width="1.0" stroke-linejoin="round"/>
<path d="M98.2 376.1 L102.1 378.3 L84.7 388.3 L80.9 386.1Z" fill="#fff" stroke="#202020" stroke-width="1.0" stroke-linejoin="round"/>
<path d="M69.9 421.2 L66.0 423.4 L66.0 383.6 L69.9 381.4Z" fill="#fff" stroke="#202020" stroke-width="1.0" stroke-linejoin="round"/>
<path d="M50.2 414.3 L66.0 423.4 L66.0 383.6 L50.2 374.5Z" fill="#fff" stroke="#202020" stroke-width="1.0" stroke-linejoin="round"/>
<path d="M54.1 372.3 L69.9 381.4 L66.0 383.6 L50.2 374.5Z" fill="#fff" stroke="#202020" stroke-width="1.0" stroke-linejoin="round"/>
<path d="M75.1 424.2 L71.3 426.4 L71.3 413.2 L75.1 411.0Z" fill="#fff" stroke="#202020" stroke-width="1.0" stroke-linejoin="round"/>
<path d="M66.0 423.4 L71.3 426.4 L71.3 413.2 L66.0 410.1Z" fill="#fff" stroke="#202020" stroke-width="1.0" stroke-linejoin="round"/>
<path d="M69.9 407.9 L75.1 411.0 L71.3 413.2 L66.0 410.1Z" fill="#fff" stroke="#202020" stroke-width="1.0" stroke-linejoin="round"/>
<path d="M80.9 425.3 L75.1 428.6 L75.1 393.8 L80.9 390.5Z" fill="#fff" stroke="#202020" stroke-width="1.0" stroke-linejoin="round"/>
<path d="M71.3 426.4 L75.1 428.6 L75.1 393.8 L71.3 391.6Z" fill="#fff" stroke="#202020" stroke-width="1.0" stroke-linejoin="round"/>
<path d="M77.0 388.3 L80.9 390.5 L75.1 393.8 L71.3 391.6Z" fill="#fff" stroke="#202020" stroke-width="1.0" stroke-linejoin="round"/>
<path d="M82.9 351.2 L46.4 372.3 L66.0 383.6 L69.9 381.4 L54.1 372.3 L82.9 355.6 L98.7 364.7 L102.5 362.5Z" fill="#fff" stroke="#202020" stroke-width="1.0" stroke-linejoin="round"/>
<path d="M46.4 412.1 L66.0 423.4 L66.0 383.6 L46.4 372.3Z" fill="#fff" stroke="#202020" stroke-width="1.0" stroke-linejoin="round"/>
<path d="M199.0 421.8 L188.4 427.9 L188.4 422.3 L199.0 416.3Z" fill="#fff" stroke="#202020" stroke-width="1.0" stroke-linejoin="round"/>
<path d="M183.7 425.1 L188.4 427.9 L188.4 422.3 L183.7 419.6Z" fill="#fff" stroke="#202020" stroke-width="1.0" stroke-linejoin="round"/>
<path d="M194.2 413.5 L199.0 416.3 L188.4 422.3 L183.7 419.6Z" fill="#fff" stroke="#202020" stroke-width="1.0" stroke-linejoin="round"/>
<path d="M109.0 409.6 L129.1 409.6 L129.1 391.1 L109.0 391.1Z" fill="#fff" stroke="#202020" stroke-width="1.0" stroke-linejoin="round"/>
<path d="M129.1 409.6 L159.2 427.0 L159.2 408.5 L129.1 391.1Z" fill="#fff" stroke="#202020" stroke-width="1.0" stroke-linejoin="round"/>
<path d="M69.8 432.3 L109.0 409.6 L109.0 391.1 L69.8 413.8Z" fill="#fff" stroke="#202020" stroke-width="1.0" stroke-linejoin="round"/>
<path d="M159.2 427.0 L159.2 438.6 L159.2 420.1 L159.2 408.5Z" fill="#fff" stroke="#202020" stroke-width="1.0" stroke-linejoin="round"/>
<path d="M120.0 461.3 L69.8 432.3 L69.8 413.8 L120.0 442.8Z" fill="#fff" stroke="#202020" stroke-width="1.0" stroke-linejoin="round"/>
<path d="M159.2 438.6 L120.0 461.3 L120.0 442.8 L159.2 420.1Z" fill="#fff" stroke="#202020" stroke-width="1.0" stroke-linejoin="round"/>
<path d="M129.1 391.1 L159.2 408.5 L159.2 420.1 L120.0 442.8 L69.8 413.8 L109.0 391.1Z" fill="#fff" stroke="#202020" stroke-width="1.0" stroke-linejoin="round"/>
<path d="M153.7 414.0 L153.5 416.1 L152.9 418.1 L152.0 420.1 L150.7 422.0 L149.1 423.9 L147.2 425.6 L144.9 427.2 L142.4 428.7 L139.6 430.0 L136.6 431.1 L133.5 432.0 L130.1 432.8 L126.7 433.3 L123.1 433.6 L119.6 433.7 L116.0 433.6 L112.5 433.3 L109.0 432.8 L105.7 432.0 L102.5 431.1 L99.5 430.0 L96.8 428.7 L94.2 427.2 L92.0 425.6 L90.0 423.9 L88.4 422.0 L87.1 420.1 L86.2 418.1 L85.7 416.1 L85.5 414.0 L85.5 373.6 L85.7 375.7 L86.2 377.7 L87.1 379.7 L88.4 381.6 L90.0 383.5 L92.0 385.2 L94.2 386.8 L96.8 388.3 L99.5 389.6 L102.5 390.7 L105.7 391.6 L109.0 392.4 L112.5 392.9 L116.0 393.2 L119.6 393.3 L123.1 393.2 L126.7 392.9 L130.1 392.4 L133.5 391.6 L136.6 390.7 L139.6 389.6 L142.4 388.3 L144.9 386.8 L147.2 385.2 L149.1 383.5 L150.7 381.6 L152.0 379.7 L152.9 377.7 L153.5 375.7 L153.7 373.6Z" fill="#fff" stroke="none" stroke-width="1.0" stroke-linejoin="round"/>
<path d="M153.7 414.0 L153.7 373.6" fill="none" stroke="#202020" stroke-width="1.0" stroke-linejoin="round"/>
<path d="M85.5 414.0 L85.5 373.6" fill="none" stroke="#202020" stroke-width="1.0" stroke-linejoin="round"/>
<path d="M143.7 387.6 L140.3 389.3 L136.6 390.7 L132.6 391.8 L128.4 392.7 L124.0 393.2 L119.6 393.3 L115.1 393.2 L110.8 392.7 L106.5 391.8 L102.5 390.7 L98.8 389.3 L95.5 387.6 L92.5 385.6 L90.0 383.5 L88.1 381.2 L86.6 378.7 L85.8 376.2 L85.5 373.6 L85.8 371.1 L86.6 368.5 L88.1 366.1 L90.0 363.8 L92.5 361.7 L95.5 359.7 L98.8 358.0 L102.5 356.6 L106.5 355.4 L110.8 354.6 L115.1 354.1 L119.6 354.0 L124.0 354.1 L128.4 354.6 L132.6 355.4 L136.6 356.6 L140.3 358.0 L143.7 359.7 L146.6 361.7 L149.1 363.8 L151.1 366.1 L152.5 368.5 L153.4 371.1 L153.7 373.6 L153.4 376.2 L152.5 378.7 L151.1 381.2 L149.1 383.5 L146.6 385.6 L143.7 387.6Z" fill="#fff" stroke="#202020" stroke-width="1.0" stroke-linejoin="round"/>
<path d="M95.5 387.5 V426" fill="none" stroke="#202020" stroke-width="1"/>
<path d="M260.5 452.6 L256.7 454.8 L256.7 415.1 L260.5 412.8Z" fill="#fff" stroke="#202020" stroke-width="1.0" stroke-linejoin="round"/>
<path d="M207.8 426.6 L256.7 454.8 L256.7 415.1 L207.8 386.8Z" fill="#fff" stroke="#202020" stroke-width="1.0" stroke-linejoin="round"/>
<path d="M211.6 384.6 L260.5 412.8 L256.7 415.1 L207.8 386.8Z" fill="#fff" stroke="#202020" stroke-width="1.0" stroke-linejoin="round"/>
<path d="M211.6 428.8 L195.9 438.0 L195.9 398.2 L211.6 389.1Z" fill="#fff" stroke="#202020" stroke-width="1.0" stroke-linejoin="round"/>
<path d="M192.0 435.7 L195.9 438.0 L195.9 398.2 L192.0 396.0Z" fill="#fff" stroke="#202020" stroke-width="1.0" stroke-linejoin="round"/>
<path d="M207.8 386.8 L211.6 389.1 L195.9 398.2 L192.0 396.0Z" fill="#fff" stroke="#202020" stroke-width="1.0" stroke-linejoin="round"/>
<path d="M195.9 438.0 L190.6 441.0 L190.6 427.7 L195.9 424.7Z" fill="#fff" stroke="#202020" stroke-width="1.0" stroke-linejoin="round"/>
<path d="M186.8 438.8 L190.6 441.0 L190.6 427.7 L186.8 425.5Z" fill="#fff" stroke="#202020" stroke-width="1.0" stroke-linejoin="round"/>
<path d="M192.0 422.5 L195.9 424.7 L190.6 427.7 L186.8 425.5Z" fill="#fff" stroke="#202020" stroke-width="1.0" stroke-linejoin="round"/>
<path d="M252.8 452.6 L228.0 467.0 L228.0 461.5 L252.8 447.1Z" fill="#fff" stroke="#202020" stroke-width="1.0" stroke-linejoin="round"/>
<path d="M186.8 443.2 L228.0 467.0 L228.0 461.5 L186.8 437.7Z" fill="#fff" stroke="#202020" stroke-width="1.0" stroke-linejoin="round"/>
<path d="M211.6 423.3 L252.8 447.1 L228.0 461.5 L186.8 437.7Z" fill="#fff" stroke="#202020" stroke-width="1.0" stroke-linejoin="round"/>
<path d="M212.9 434.0 L209.7 435.8 L209.7 408.2 L212.9 406.3Z" fill="#fff" stroke="#202020" stroke-width="1.0" stroke-linejoin="round"/>
<path d="M206.5 434.0 L209.7 435.8 L209.7 408.2 L206.5 406.3Z" fill="#fff" stroke="#202020" stroke-width="1.0" stroke-linejoin="round"/>
<path d="M209.7 404.5 L212.9 406.3 L209.7 408.2 L206.5 406.3Z" fill="#fff" stroke="#202020" stroke-width="1.0" stroke-linejoin="round"/>
<path d="M192.5 442.1 L188.7 444.3 L188.7 409.5 L192.5 407.3Z" fill="#fff" stroke="#202020" stroke-width="1.0" stroke-linejoin="round"/>
<path d="M182.9 441.0 L188.7 444.3 L188.7 409.5 L182.9 406.2Z" fill="#fff" stroke="#202020" stroke-width="1.0" stroke-linejoin="round"/>
<path d="M186.8 404.0 L192.5 407.3 L188.7 409.5 L182.9 406.2Z" fill="#fff" stroke="#202020" stroke-width="1.0" stroke-linejoin="round"/>
<path d="M225.2 441.1 L222.1 442.9 L222.1 415.3 L225.2 413.5Z" fill="#fff" stroke="#202020" stroke-width="1.0" stroke-linejoin="round"/>
<path d="M218.9 441.1 L222.1 442.9 L222.1 415.3 L218.9 413.5Z" fill="#fff" stroke="#202020" stroke-width="1.0" stroke-linejoin="round"/>
<path d="M222.1 411.6 L225.2 413.5 L222.1 415.3 L218.9 413.5Z" fill="#fff" stroke="#202020" stroke-width="1.0" stroke-linejoin="round"/>
<path d="M209.3 451.8 L205.4 454.0 L205.4 419.2 L209.3 417.0Z" fill="#fff" stroke="#202020" stroke-width="1.0" stroke-linejoin="round"/>
<path d="M192.5 446.5 L205.4 454.0 L205.4 419.2 L192.5 411.7Z" fill="#fff" stroke="#202020" stroke-width="1.0" stroke-linejoin="round"/>
<path d="M196.3 409.5 L209.3 417.0 L205.4 419.2 L192.5 411.7Z" fill="#fff" stroke="#202020" stroke-width="1.0" stroke-linejoin="round"/>
<path d="M237.6 448.2 L234.4 450.0 L234.4 422.4 L237.6 420.6Z" fill="#fff" stroke="#202020" stroke-width="1.0" stroke-linejoin="round"/>
<path d="M231.2 448.2 L234.4 450.0 L234.4 422.4 L231.2 420.6Z" fill="#fff" stroke="#202020" stroke-width="1.0" stroke-linejoin="round"/>
<path d="M234.4 418.8 L237.6 420.6 L234.4 422.4 L231.2 420.6Z" fill="#fff" stroke="#202020" stroke-width="1.0" stroke-linejoin="round"/>
<path d="M226.0 461.4 L222.2 463.6 L222.2 428.8 L226.0 426.6Z" fill="#fff" stroke="#202020" stroke-width="1.0" stroke-linejoin="round"/>
<path d="M209.3 456.2 L222.2 463.6 L222.2 428.8 L209.3 421.4Z" fill="#fff" stroke="#202020" stroke-width="1.0" stroke-linejoin="round"/>
<path d="M213.1 419.2 L226.0 426.6 L222.2 428.8 L209.3 421.4Z" fill="#fff" stroke="#202020" stroke-width="1.0" stroke-linejoin="round"/>
<path d="M256.7 454.8 L240.9 463.9 L240.9 424.2 L256.7 415.1Z" fill="#fff" stroke="#202020" stroke-width="1.0" stroke-linejoin="round"/>
<path d="M237.1 461.7 L240.9 463.9 L240.9 424.2 L237.1 422.0Z" fill="#fff" stroke="#202020" stroke-width="1.0" stroke-linejoin="round"/>
<path d="M252.8 412.8 L256.7 415.1 L240.9 424.2 L237.1 422.0Z" fill="#fff" stroke="#202020" stroke-width="1.0" stroke-linejoin="round"/>
<path d="M240.9 463.9 L235.6 467.0 L235.6 453.7 L240.9 450.7Z" fill="#fff" stroke="#202020" stroke-width="1.0" stroke-linejoin="round"/>
<path d="M231.8 464.8 L235.6 467.0 L235.6 453.7 L231.8 451.5Z" fill="#fff" stroke="#202020" stroke-width="1.0" stroke-linejoin="round"/>
<path d="M237.1 448.5 L240.9 450.7 L235.6 453.7 L231.8 451.5Z" fill="#fff" stroke="#202020" stroke-width="1.0" stroke-linejoin="round"/>
<path d="M235.6 467.0 L231.8 469.2 L231.8 434.4 L235.6 432.2Z" fill="#fff" stroke="#202020" stroke-width="1.0" stroke-linejoin="round"/>
<path d="M226.0 465.9 L231.8 469.2 L231.8 434.4 L226.0 431.0Z" fill="#fff" stroke="#202020" stroke-width="1.0" stroke-linejoin="round"/>
<path d="M229.8 428.8 L235.6 432.2 L231.8 434.4 L226.0 431.0Z" fill="#fff" stroke="#202020" stroke-width="1.0" stroke-linejoin="round"/>
<path d="M211.6 384.6 L260.5 412.8 L240.9 424.2 L237.1 422.0 L252.8 412.8 L211.6 389.1 L195.9 398.2 L192.0 396.0Z" fill="#fff" stroke="#202020" stroke-width="1.0" stroke-linejoin="round"/>
<path d="M260.5 452.6 L240.9 463.9 L240.9 424.2 L260.5 412.8Z" fill="#fff" stroke="#202020" stroke-width="1.0" stroke-linejoin="round"/>
<path d="M178.4 446.9 L172.2 450.5 L172.2 447.2 L178.4 443.6Z" fill="#fff" stroke="#202020" stroke-width="1.0" stroke-linejoin="round"/>
<path d="M162.6 445.0 L172.2 450.5 L172.2 447.2 L162.6 441.7Z" fill="#fff" stroke="#202020" stroke-width="1.0" stroke-linejoin="round"/>
<path d="M168.8 438.1 L178.4 443.6 L172.2 447.2 L162.6 441.7Z" fill="#fff" stroke="#202020" stroke-width="1.0" stroke-linejoin="round"/>
<path d="M168.8 456.3 L159.2 461.8 L159.2 458.5 L168.8 453.0Z" fill="#fff" stroke="#202020" stroke-width="1.0" stroke-linejoin="round"/>
<path d="M153.3 458.4 L159.2 461.8 L159.2 458.5 L153.3 455.1Z" fill="#fff" stroke="#202020" stroke-width="1.0" stroke-linejoin="round"/>
<path d="M162.8 449.6 L168.8 453.0 L159.2 458.5 L153.3 455.1Z" fill="#fff" stroke="#202020" stroke-width="1.0" stroke-linejoin="round"/>
<path d="M291.3 464.1 L285.6 467.4 L285.6 461.8 L291.3 458.5Z" fill="#fff" stroke="#202020" stroke-width="1.0" stroke-linejoin="round"/>
<path d="M273.1 460.2 L285.6 467.4 L285.6 461.8 L273.1 454.7Z" fill="#fff" stroke="#202020" stroke-width="1.0" stroke-linejoin="round"/>
<path d="M278.9 451.4 L291.3 458.5 L285.6 461.8 L273.1 454.7Z" fill="#fff" stroke="#202020" stroke-width="1.0" stroke-linejoin="round"/>
<path d="M140.6 462.7 L131.0 468.2 L131.0 463.2 L140.6 457.7Z" fill="#fff" stroke="#202020" stroke-width="1.0" stroke-linejoin="round"/>
<path d="M123.8 464.1 L131.0 468.2 L131.0 463.2 L123.8 459.1Z" fill="#fff" stroke="#202020" stroke-width="1.0" stroke-linejoin="round"/>
<path d="M133.4 453.6 L140.6 457.7 L131.0 463.2 L123.8 459.1Z" fill="#fff" stroke="#202020" stroke-width="1.0" stroke-linejoin="round"/>
<path d="M218.1 468.2 L212.4 471.5 L212.4 466.0 L218.1 462.7Z" fill="#fff" stroke="#202020" stroke-width="1.0" stroke-linejoin="round"/>
<path d="M202.8 466.0 L212.4 471.5 L212.4 466.0 L202.8 460.5Z" fill="#fff" stroke="#202020" stroke-width="1.0" stroke-linejoin="round"/>
<path d="M208.5 457.2 L218.1 462.7 L212.4 466.0 L202.8 460.5Z" fill="#fff" stroke="#202020" stroke-width="1.0" stroke-linejoin="round"/>
<path d="M274.1 472.3 L268.3 475.7 L268.3 472.3 L274.1 469.0Z" fill="#fff" stroke="#202020" stroke-width="1.0" stroke-linejoin="round"/>
<path d="M258.8 470.1 L268.3 475.7 L268.3 472.3 L258.8 466.8Z" fill="#fff" stroke="#202020" stroke-width="1.0" stroke-linejoin="round"/>
<path d="M264.5 463.5 L274.1 469.0 L268.3 472.3 L258.8 466.8Z" fill="#fff" stroke="#202020" stroke-width="1.0" stroke-linejoin="round"/>
<path d="M207.8 474.1 L202.1 477.5 L202.1 471.9 L207.8 468.6Z" fill="#fff" stroke="#202020" stroke-width="1.0" stroke-linejoin="round"/>
<path d="M192.5 471.9 L202.1 477.5 L202.1 471.9 L192.5 466.4Z" fill="#fff" stroke="#202020" stroke-width="1.0" stroke-linejoin="round"/>
<path d="M198.2 463.1 L207.8 468.6 L202.1 471.9 L192.5 466.4Z" fill="#fff" stroke="#202020" stroke-width="1.0" stroke-linejoin="round"/>
<path d="M172.6 467.6 L170.3 469.0 L170.3 465.2 L172.6 463.8Z" fill="#fff" stroke="#202020" stroke-width="1.0" stroke-linejoin="round"/>
<path d="M165.9 466.5 L170.3 469.0 L170.3 465.2 L165.9 462.7Z" fill="#fff" stroke="#202020" stroke-width="1.0" stroke-linejoin="round"/>
<path d="M168.3 461.3 L172.6 463.8 L170.3 465.2 L165.9 462.7Z" fill="#fff" stroke="#202020" stroke-width="1.0" stroke-linejoin="round"/>
<path d="M166.4 471.2 L164.0 472.6 L164.0 468.8 L166.4 467.4Z" fill="#fff" stroke="#202020" stroke-width="1.0" stroke-linejoin="round"/>
<path d="M159.7 470.1 L164.0 472.6 L164.0 468.8 L159.7 466.3Z" fill="#fff" stroke="#202020" stroke-width="1.0" stroke-linejoin="round"/>
<path d="M162.1 464.9 L166.4 467.4 L164.0 468.8 L159.7 466.3Z" fill="#fff" stroke="#202020" stroke-width="1.0" stroke-linejoin="round"/>
<path d="M160.2 474.8 L157.8 476.2 L157.8 472.3 L160.2 471.0Z" fill="#fff" stroke="#202020" stroke-width="1.0" stroke-linejoin="round"/>
<path d="M153.5 473.7 L157.8 476.2 L157.8 472.3 L153.5 469.9Z" fill="#fff" stroke="#202020" stroke-width="1.0" stroke-linejoin="round"/>
<path d="M155.9 468.5 L160.2 471.0 L157.8 472.3 L153.5 469.9Z" fill="#fff" stroke="#202020" stroke-width="1.0" stroke-linejoin="round"/>
<path d="M153.7 478.6 L151.4 479.9 L151.4 476.1 L153.7 474.7Z" fill="#fff" stroke="#202020" stroke-width="1.0" stroke-linejoin="round"/>
<path d="M147.0 477.5 L151.4 479.9 L151.4 476.1 L147.0 473.6Z" fill="#fff" stroke="#202020" stroke-width="1.0" stroke-linejoin="round"/>
<path d="M149.4 472.2 L153.7 474.7 L151.4 476.1 L147.0 473.6Z" fill="#fff" stroke="#202020" stroke-width="1.0" stroke-linejoin="round"/>
<path d="M192.5 476.1 L168.8 489.7 L168.8 481.5 L192.5 467.8Z" fill="#fff" stroke="#202020" stroke-width="1.0" stroke-linejoin="round"/>
<path d="M150.2 479.0 L168.8 489.7 L168.8 481.5 L150.2 470.7Z" fill="#fff" stroke="#202020" stroke-width="1.0" stroke-linejoin="round"/>
<path d="M173.8 457.0 L192.5 467.8 L168.8 481.5 L150.2 470.7Z" fill="#fff" stroke="#202020" stroke-width="1.0" stroke-linejoin="round"/>
<path d="M195.6 480.9 L193.2 482.3 L193.2 478.4 L195.6 477.0Z" fill="#fff" stroke="#202020" stroke-width="1.0" stroke-linejoin="round"/>
<path d="M188.9 479.8 L193.2 482.3 L193.2 478.4 L188.9 475.9Z" fill="#fff" stroke="#202020" stroke-width="1.0" stroke-linejoin="round"/>
<path d="M191.3 474.6 L195.6 477.0 L193.2 478.4 L188.9 475.9Z" fill="#fff" stroke="#202020" stroke-width="1.0" stroke-linejoin="round"/>
<path d="M189.4 484.5 L187.0 485.9 L187.0 482.0 L189.4 480.6Z" fill="#fff" stroke="#202020" stroke-width="1.0" stroke-linejoin="round"/>
<path d="M182.7 483.4 L187.0 485.9 L187.0 482.0 L182.7 479.5Z" fill="#fff" stroke="#202020" stroke-width="1.0" stroke-linejoin="round"/>
<path d="M185.1 478.1 L189.4 480.6 L187.0 482.0 L182.7 479.5Z" fill="#fff" stroke="#202020" stroke-width="1.0" stroke-linejoin="round"/>
<path d="M183.2 488.1 L180.8 489.5 L180.8 485.6 L183.2 484.2Z" fill="#fff" stroke="#202020" stroke-width="1.0" stroke-linejoin="round"/>
<path d="M176.5 487.0 L180.8 489.5 L180.8 485.6 L176.5 483.1Z" fill="#fff" stroke="#202020" stroke-width="1.0" stroke-linejoin="round"/>
<path d="M178.9 481.7 L183.2 484.2 L180.8 485.6 L176.5 483.1Z" fill="#fff" stroke="#202020" stroke-width="1.0" stroke-linejoin="round"/>
<path d="M176.7 491.8 L174.3 493.2 L174.3 489.3 L176.7 488.0Z" fill="#fff" stroke="#202020" stroke-width="1.0" stroke-linejoin="round"/>
<path d="M170.0 490.7 L174.3 493.2 L174.3 489.3 L170.0 486.8Z" fill="#fff" stroke="#202020" stroke-width="1.0" stroke-linejoin="round"/>
<path d="M172.4 485.5 L176.7 488.0 L174.3 489.3 L170.0 486.8Z" fill="#fff" stroke="#202020" stroke-width="1.0" stroke-linejoin="round"/>
<path d="M247.3 475.9 L184.6 512.1 L184.6 497.8 L247.3 461.6Z" fill="#fff" stroke="#202020" stroke-width="1.0" stroke-linejoin="round"/>
<path d="M174.6 506.3 L184.6 512.1 L184.6 497.8 L174.6 492.0Z" fill="#fff" stroke="#202020" stroke-width="1.0" stroke-linejoin="round"/>
<path d="M237.2 455.8 L247.3 461.6 L184.6 497.8 L174.6 492.0Z" fill="#fff" stroke="#202020" stroke-width="1.0" stroke-linejoin="round"/>
<path d="M239.2 462.3 L236.0 464.1 L236.0 429.8 L239.2 428.0Z" fill="#fff" stroke="#202020" stroke-width="1.0" stroke-linejoin="round"/>
<path d="M232.9 462.3 L236.0 464.1 L236.0 429.8 L232.9 428.0Z" fill="#fff" stroke="#202020" stroke-width="1.0" stroke-linejoin="round"/>
<path d="M236.0 426.2 L239.2 428.0 L236.0 429.8 L232.9 428.0Z" fill="#fff" stroke="#202020" stroke-width="1.0" stroke-linejoin="round"/>
<path d="M226.6 469.5 L223.5 471.3 L223.5 437.1 L226.6 435.3Z" fill="#fff" stroke="#202020" stroke-width="1.0" stroke-linejoin="round"/>
<path d="M220.3 469.5 L223.5 471.3 L223.5 437.1 L220.3 435.3Z" fill="#fff" stroke="#202020" stroke-width="1.0" stroke-linejoin="round"/>
<path d="M223.5 433.4 L226.6 435.3 L223.5 437.1 L220.3 435.3Z" fill="#fff" stroke="#202020" stroke-width="1.0" stroke-linejoin="round"/>
<path d="M214.1 476.8 L210.9 478.6 L210.9 444.3 L214.1 442.5Z" fill="#fff" stroke="#202020" stroke-width="1.0" stroke-linejoin="round"/>
<path d="M207.8 476.8 L210.9 478.6 L210.9 444.3 L207.8 442.5Z" fill="#fff" stroke="#202020" stroke-width="1.0" stroke-linejoin="round"/>
<path d="M210.9 440.7 L214.1 442.5 L210.9 444.3 L207.8 442.5Z" fill="#fff" stroke="#202020" stroke-width="1.0" stroke-linejoin="round"/>
<path d="M201.5 484.0 L198.4 485.8 L198.4 451.6 L201.5 449.8Z" fill="#fff" stroke="#202020" stroke-width="1.0" stroke-linejoin="round"/>
<path d="M195.2 484.0 L198.4 485.8 L198.4 451.6 L195.2 449.8Z" fill="#fff" stroke="#202020" stroke-width="1.0" stroke-linejoin="round"/>
<path d="M198.4 447.9 L201.5 449.8 L198.4 451.6 L195.2 449.8Z" fill="#fff" stroke="#202020" stroke-width="1.0" stroke-linejoin="round"/>
<path d="M189.0 491.3 L185.8 493.1 L185.8 458.8 L189.0 457.0Z" fill="#fff" stroke="#202020" stroke-width="1.0" stroke-linejoin="round"/>
<path d="M182.6 491.3 L185.8 493.1 L185.8 458.8 L182.6 457.0Z" fill="#fff" stroke="#202020" stroke-width="1.0" stroke-linejoin="round"/>
<path d="M185.8 455.2 L189.0 457.0 L185.8 458.8 L182.6 457.0Z" fill="#fff" stroke="#202020" stroke-width="1.0" stroke-linejoin="round"/>
<path d="M343.3 500.4 L339.5 502.6 L339.5 462.8 L343.3 460.6Z" fill="#fff" stroke="#202020" stroke-width="1.0" stroke-linejoin="round"/>
<path d="M290.6 474.4 L339.5 502.6 L339.5 462.8 L290.6 434.6Z" fill="#fff" stroke="#202020" stroke-width="1.0" stroke-linejoin="round"/>
<path d="M294.4 432.4 L343.3 460.6 L339.5 462.8 L290.6 434.6Z" fill="#fff" stroke="#202020" stroke-width="1.0" stroke-linejoin="round"/>
<path d="M294.4 476.6 L278.6 485.7 L278.6 446.0 L294.4 436.8Z" fill="#fff" stroke="#202020" stroke-width="1.0" stroke-linejoin="round"/>
<path d="M274.8 483.5 L278.6 485.7 L278.6 446.0 L274.8 443.8Z" fill="#fff" stroke="#202020" stroke-width="1.0" stroke-linejoin="round"/>
<path d="M290.6 434.6 L294.4 436.8 L278.6 446.0 L274.8 443.8Z" fill="#fff" stroke="#202020" stroke-width="1.0" stroke-linejoin="round"/>
<path d="M278.6 485.7 L273.4 488.8 L273.4 475.5 L278.6 472.5Z" fill="#fff" stroke="#202020" stroke-width="1.0" stroke-linejoin="round"/>
<path d="M269.5 486.6 L273.4 488.8 L273.4 475.5 L269.5 473.3Z" fill="#fff" stroke="#202020" stroke-width="1.0" stroke-linejoin="round"/>
<path d="M274.8 470.3 L278.6 472.5 L273.4 475.5 L269.5 473.3Z" fill="#fff" stroke="#202020" stroke-width="1.0" stroke-linejoin="round"/>
<path d="M335.6 500.4 L310.7 514.8 L310.7 509.3 L335.6 494.9Z" fill="#fff" stroke="#202020" stroke-width="1.0" stroke-linejoin="round"/>
<path d="M269.5 491.0 L310.7 514.8 L310.7 509.3 L269.5 485.5Z" fill="#fff" stroke="#202020" stroke-width="1.0" stroke-linejoin="round"/>
<path d="M294.4 471.1 L335.6 494.9 L310.7 509.3 L269.5 485.5Z" fill="#fff" stroke="#202020" stroke-width="1.0" stroke-linejoin="round"/>
<path d="M295.6 481.8 L292.5 483.6 L292.5 455.9 L295.6 454.1Z" fill="#fff" stroke="#202020" stroke-width="1.0" stroke-linejoin="round"/>
<path d="M289.3 481.8 L292.5 483.6 L292.5 455.9 L289.3 454.1Z" fill="#fff" stroke="#202020" stroke-width="1.0" stroke-linejoin="round"/>
<path d="M292.5 452.3 L295.6 454.1 L292.5 455.9 L289.3 454.1Z" fill="#fff" stroke="#202020" stroke-width="1.0" stroke-linejoin="round"/>
<path d="M275.3 489.9 L271.5 492.1 L271.5 457.3 L275.3 455.1Z" fill="#fff" stroke="#202020" stroke-width="1.0" stroke-linejoin="round"/>
<path d="M265.7 488.8 L271.5 492.1 L271.5 457.3 L265.7 454.0Z" fill="#fff" stroke="#202020" stroke-width="1.0" stroke-linejoin="round"/>
<path d="M269.5 451.8 L275.3 455.1 L271.5 457.3 L265.7 454.0Z" fill="#fff" stroke="#202020" stroke-width="1.0" stroke-linejoin="round"/>
<path d="M308.0 488.9 L304.8 490.7 L304.8 463.1 L308.0 461.3Z" fill="#fff" stroke="#202020" stroke-width="1.0" stroke-linejoin="round"/>
<path d="M301.7 488.9 L304.8 490.7 L304.8 463.1 L301.7 461.3Z" fill="#fff" stroke="#202020" stroke-width="1.0" stroke-linejoin="round"/>
<path d="M304.8 459.4 L308.0 461.3 L304.8 463.1 L301.7 461.3Z" fill="#fff" stroke="#202020" stroke-width="1.0" stroke-linejoin="round"/>
<path d="M292.0 499.6 L288.2 501.8 L288.2 467.0 L292.0 464.7Z" fill="#fff" stroke="#202020" stroke-width="1.0" stroke-linejoin="round"/>
<path d="M275.3 494.3 L288.2 501.8 L288.2 467.0 L275.3 459.5Z" fill="#fff" stroke="#202020" stroke-width="1.0" stroke-linejoin="round"/>
<path d="M279.1 457.3 L292.0 464.7 L288.2 467.0 L275.3 459.5Z" fill="#fff" stroke="#202020" stroke-width="1.0" stroke-linejoin="round"/>
<path d="M320.3 496.0 L317.2 497.8 L317.2 470.2 L320.3 468.4Z" fill="#fff" stroke="#202020" stroke-width="1.0" stroke-linejoin="round"/>
<path d="M314.0 496.0 L317.2 497.8 L317.2 470.2 L314.0 468.4Z" fill="#fff" stroke="#202020" stroke-width="1.0" stroke-linejoin="round"/>
<path d="M317.2 466.6 L320.3 468.4 L317.2 470.2 L314.0 468.4Z" fill="#fff" stroke="#202020" stroke-width="1.0" stroke-linejoin="round"/>
<path d="M308.8 509.2 L305.0 511.4 L305.0 476.6 L308.8 474.4Z" fill="#fff" stroke="#202020" stroke-width="1.0" stroke-linejoin="round"/>
<path d="M292.0 504.0 L305.0 511.4 L305.0 476.6 L292.0 469.2Z" fill="#fff" stroke="#202020" stroke-width="1.0" stroke-linejoin="round"/>
<path d="M295.9 467.0 L308.8 474.4 L305.0 476.6 L292.0 469.2Z" fill="#fff" stroke="#202020" stroke-width="1.0" stroke-linejoin="round"/>
<path d="M339.5 502.6 L323.7 511.7 L323.7 472.0 L339.5 462.8Z" fill="#fff" stroke="#202020" stroke-width="1.0" stroke-linejoin="round"/>
<path d="M319.8 509.5 L323.7 511.7 L323.7 472.0 L319.8 469.7Z" fill="#fff" stroke="#202020" stroke-width="1.0" stroke-linejoin="round"/>
<path d="M335.6 460.6 L339.5 462.8 L323.7 472.0 L319.8 469.7Z" fill="#fff" stroke="#202020" stroke-width="1.0" stroke-linejoin="round"/>
<path d="M323.7 511.7 L318.4 514.8 L318.4 501.5 L323.7 498.5Z" fill="#fff" stroke="#202020" stroke-width="1.0" stroke-linejoin="round"/>
<path d="M314.6 512.6 L318.4 514.8 L318.4 501.5 L314.6 499.3Z" fill="#fff" stroke="#202020" stroke-width="1.0" stroke-linejoin="round"/>
<path d="M319.8 496.3 L323.7 498.5 L318.4 501.5 L314.6 499.3Z" fill="#fff" stroke="#202020" stroke-width="1.0" stroke-linejoin="round"/>
<path d="M318.4 514.8 L314.6 517.0 L314.6 482.2 L318.4 480.0Z" fill="#fff" stroke="#202020" stroke-width="1.0" stroke-linejoin="round"/>
<path d="M308.8 513.6 L314.6 517.0 L314.6 482.2 L308.8 478.8Z" fill="#fff" stroke="#202020" stroke-width="1.0" stroke-linejoin="round"/>
<path d="M312.6 476.6 L318.4 480.0 L314.6 482.2 L308.8 478.8Z" fill="#fff" stroke="#202020" stroke-width="1.0" stroke-linejoin="round"/>
<path d="M294.4 432.4 L343.3 460.6 L323.7 472.0 L319.8 469.7 L335.6 460.6 L294.4 436.8 L278.6 446.0 L274.8 443.8Z" fill="#fff" stroke="#202020" stroke-width="1.0" stroke-linejoin="round"/>
<path d="M343.3 500.4 L323.7 511.7 L323.7 472.0 L343.3 460.6Z" fill="#fff" stroke="#202020" stroke-width="1.0" stroke-linejoin="round"/>
<path d="M268.8 496.9 L263.1 500.2 L263.1 496.9 L268.8 493.6Z" fill="#fff" stroke="#202020" stroke-width="1.0" stroke-linejoin="round"/>
<path d="M253.5 494.7 L263.1 500.2 L263.1 496.9 L253.5 491.4Z" fill="#fff" stroke="#202020" stroke-width="1.0" stroke-linejoin="round"/>
<path d="M259.3 488.1 L268.8 493.6 L263.1 496.9 L253.5 491.4Z" fill="#fff" stroke="#202020" stroke-width="1.0" stroke-linejoin="round"/>
<path d="M280.5 504.5 L275.3 507.6 L275.3 503.1 L280.5 500.1Z" fill="#fff" stroke="#202020" stroke-width="1.0" stroke-linejoin="round"/>
<path d="M268.1 503.4 L275.3 507.6 L275.3 503.1 L268.1 499.0Z" fill="#fff" stroke="#202020" stroke-width="1.0" stroke-linejoin="round"/>
<path d="M273.4 496.0 L280.5 500.1 L275.3 503.1 L268.1 499.0Z" fill="#fff" stroke="#202020" stroke-width="1.0" stroke-linejoin="round"/>
<path d="M240.6 502.2 L204.1 523.3 L204.1 483.5 L240.6 462.4Z" fill="#fff" stroke="#202020" stroke-width="1.0" stroke-linejoin="round"/>
<path d="M200.3 521.0 L204.1 523.3 L204.1 483.5 L200.3 481.3Z" fill="#fff" stroke="#202020" stroke-width="1.0" stroke-linejoin="round"/>
<path d="M236.8 460.2 L240.6 462.4 L204.1 483.5 L200.3 481.3Z" fill="#fff" stroke="#202020" stroke-width="1.0" stroke-linejoin="round"/>
<path d="M256.4 511.3 L252.6 513.5 L252.6 473.7 L256.4 471.5Z" fill="#fff" stroke="#202020" stroke-width="1.0" stroke-linejoin="round"/>
<path d="M236.8 504.4 L252.6 513.5 L252.6 473.7 L236.8 464.6Z" fill="#fff" stroke="#202020" stroke-width="1.0" stroke-linejoin="round"/>
<path d="M240.6 462.4 L256.4 471.5 L252.6 473.7 L236.8 464.6Z" fill="#fff" stroke="#202020" stroke-width="1.0" stroke-linejoin="round"/>
<path d="M261.6 514.3 L257.8 516.5 L257.8 503.3 L261.6 501.1Z" fill="#fff" stroke="#202020" stroke-width="1.0" stroke-linejoin="round"/>
<path d="M252.6 513.5 L257.8 516.5 L257.8 503.3 L252.6 500.2Z" fill="#fff" stroke="#202020" stroke-width="1.0" stroke-linejoin="round"/>
<path d="M256.4 498.0 L261.6 501.1 L257.8 503.3 L252.6 500.2Z" fill="#fff" stroke="#202020" stroke-width="1.0" stroke-linejoin="round"/>
<path d="M261.6 518.8 L232.8 535.4 L232.8 529.9 L261.6 513.2Z" fill="#fff" stroke="#202020" stroke-width="1.0" stroke-linejoin="round"/>
<path d="M207.9 521.0 L232.8 535.4 L232.8 529.9 L207.9 515.5Z" fill="#fff" stroke="#202020" stroke-width="1.0" stroke-linejoin="round"/>
<path d="M236.8 498.9 L261.6 513.2 L232.8 529.9 L207.9 515.5Z" fill="#fff" stroke="#202020" stroke-width="1.0" stroke-linejoin="round"/>
<path d="M241.9 509.5 L238.7 511.3 L238.7 483.7 L241.9 481.9Z" fill="#fff" stroke="#202020" stroke-width="1.0" stroke-linejoin="round"/>
<path d="M235.5 509.5 L238.7 511.3 L238.7 483.7 L235.5 481.9Z" fill="#fff" stroke="#202020" stroke-width="1.0" stroke-linejoin="round"/>
<path d="M238.7 480.1 L241.9 481.9 L238.7 483.7 L235.5 481.9Z" fill="#fff" stroke="#202020" stroke-width="1.0" stroke-linejoin="round"/>
<path d="M265.5 516.5 L259.7 519.9 L259.7 485.1 L265.5 481.7Z" fill="#fff" stroke="#202020" stroke-width="1.0" stroke-linejoin="round"/>
<path d="M255.9 517.6 L259.7 519.9 L259.7 485.1 L255.9 482.8Z" fill="#fff" stroke="#202020" stroke-width="1.0" stroke-linejoin="round"/>
<path d="M261.6 479.5 L265.5 481.7 L259.7 485.1 L255.9 482.8Z" fill="#fff" stroke="#202020" stroke-width="1.0" stroke-linejoin="round"/>
<path d="M229.5 516.6 L226.4 518.5 L226.4 490.8 L229.5 489.0Z" fill="#fff" stroke="#202020" stroke-width="1.0" stroke-linejoin="round"/>
<path d="M223.2 516.6 L226.4 518.5 L226.4 490.8 L223.2 489.0Z" fill="#fff" stroke="#202020" stroke-width="1.0" stroke-linejoin="round"/>
<path d="M226.4 487.2 L229.5 489.0 L226.4 490.8 L223.2 489.0Z" fill="#fff" stroke="#202020" stroke-width="1.0" stroke-linejoin="round"/>
<path d="M255.9 522.1 L238.5 532.1 L238.5 497.3 L255.9 487.3Z" fill="#fff" stroke="#202020" stroke-width="1.0" stroke-linejoin="round"/>
<path d="M234.7 529.9 L238.5 532.1 L238.5 497.3 L234.7 495.1Z" fill="#fff" stroke="#202020" stroke-width="1.0" stroke-linejoin="round"/>
<path d="M252.1 485.1 L255.9 487.3 L238.5 497.3 L234.7 495.1Z" fill="#fff" stroke="#202020" stroke-width="1.0" stroke-linejoin="round"/>
<path d="M223.7 530.2 L219.9 532.4 L219.9 492.6 L223.7 490.4Z" fill="#fff" stroke="#202020" stroke-width="1.0" stroke-linejoin="round"/>
<path d="M204.1 523.3 L219.9 532.4 L219.9 492.6 L204.1 483.5Z" fill="#fff" stroke="#202020" stroke-width="1.0" stroke-linejoin="round"/>
<path d="M207.9 481.3 L223.7 490.4 L219.9 492.6 L204.1 483.5Z" fill="#fff" stroke="#202020" stroke-width="1.0" stroke-linejoin="round"/>
<path d="M229.0 533.2 L225.1 535.4 L225.1 522.2 L229.0 519.9Z" fill="#fff" stroke="#202020" stroke-width="1.0" stroke-linejoin="round"/>
<path d="M219.9 532.4 L225.1 535.4 L225.1 522.2 L219.9 519.1Z" fill="#fff" stroke="#202020" stroke-width="1.0" stroke-linejoin="round"/>
<path d="M223.7 516.9 L229.0 519.9 L225.1 522.2 L219.9 519.1Z" fill="#fff" stroke="#202020" stroke-width="1.0" stroke-linejoin="round"/>
<path d="M234.7 534.3 L229.0 537.6 L229.0 502.8 L234.7 499.5Z" fill="#fff" stroke="#202020" stroke-width="1.0" stroke-linejoin="round"/>
<path d="M225.1 535.4 L229.0 537.6 L229.0 502.8 L225.1 500.6Z" fill="#fff" stroke="#202020" stroke-width="1.0" stroke-linejoin="round"/>
<path d="M230.9 497.3 L234.7 499.5 L229.0 502.8 L225.1 500.6Z" fill="#fff" stroke="#202020" stroke-width="1.0" stroke-linejoin="round"/>
<path d="M236.8 460.2 L200.3 481.3 L219.9 492.6 L223.7 490.4 L207.9 481.3 L236.8 464.6 L252.6 473.7 L256.4 471.5Z" fill="#fff" stroke="#202020" stroke-width="1.0" stroke-linejoin="round"/>
<path d="M200.3 521.0 L219.9 532.4 L219.9 492.6 L200.3 481.3Z" fill="#fff" stroke="#202020" stroke-width="1.0" stroke-linejoin="round"/>
<path d="M288.0 518.5 L273.1 527.0 L273.1 519.3 L288.0 510.7Z" fill="#fff" stroke="#202020" stroke-width="1.0" stroke-linejoin="round"/>
<path d="M266.0 522.9 L273.1 527.0 L273.1 519.3 L266.0 515.2Z" fill="#fff" stroke="#202020" stroke-width="1.0" stroke-linejoin="round"/>
<path d="M280.8 506.6 L288.0 510.7 L273.1 519.3 L266.0 515.2Z" fill="#fff" stroke="#202020" stroke-width="1.0" stroke-linejoin="round"/>
<path d="M309.0 527.0 L287.0 539.8 L287.0 527.0 L309.0 514.3Z" fill="#fff" stroke="#202020" stroke-width="1.0" stroke-linejoin="round"/>
<path d="M274.1 532.3 L287.0 539.8 L287.0 527.0 L274.1 519.6Z" fill="#fff" stroke="#202020" stroke-width="1.0" stroke-linejoin="round"/>
<path d="M296.1 506.9 L309.0 514.3 L287.0 527.0 L274.1 519.6Z" fill="#fff" stroke="#202020" stroke-width="1.0" stroke-linejoin="round"/>
<path d="M255.9 538.6 L246.3 544.2 L246.3 540.9 L255.9 535.3Z" fill="#fff" stroke="#202020" stroke-width="1.0" stroke-linejoin="round"/>
<path d="M241.1 541.1 L246.3 544.2 L246.3 540.9 L241.1 537.8Z" fill="#fff" stroke="#202020" stroke-width="1.0" stroke-linejoin="round"/>
<path d="M250.6 532.3 L255.9 535.3 L246.3 540.9 L241.1 537.8Z" fill="#fff" stroke="#202020" stroke-width="1.0" stroke-linejoin="round"/>
<path d="M273.4 546.5 L260.0 554.3 L260.0 548.7 L273.4 541.0Z" fill="#fff" stroke="#202020" stroke-width="1.0" stroke-linejoin="round"/>
<path d="M254.0 550.8 L260.0 554.3 L260.0 548.7 L254.0 545.3Z" fill="#fff" stroke="#202020" stroke-width="1.0" stroke-linejoin="round"/>
<path d="M267.4 537.5 L273.4 541.0 L260.0 548.7 L254.0 545.3Z" fill="#fff" stroke="#202020" stroke-width="1.0" stroke-linejoin="round"/>
<path d="M442.5 571.5 L362.2 617.9 L362.2 505.9 L442.5 459.6Z" fill="#fff" stroke="#202020" stroke-width="1.0" stroke-linejoin="round"/>
<path d="M264.7 561.6 L362.2 617.9 L362.2 505.9 L264.7 449.6Z" fill="#fff" stroke="#202020" stroke-width="1.0" stroke-linejoin="round"/>
<path d="M345.0 403.3 L442.5 459.6 L362.2 505.9 L264.7 449.6Z" fill="#fff" stroke="#202020" stroke-width="1.0" stroke-linejoin="round"/>
<path d="M263.6 561.0 L263.6 448.3 L295.4 429.9" fill="none" stroke="#202020" stroke-width="1.0" stroke-linejoin="round"/>
<path d="M479.6 541.8 L429.8 570.6 L435.9 597.7 L485.6 568.9Z" fill="#fff" stroke="#202020" stroke-width="1.0" stroke-linejoin="round"/>
<path d="M485.6 599.7 L435.9 628.4 L435.9 597.7 L485.6 568.9Z" fill="#fff" stroke="#202020" stroke-width="1.0" stroke-linejoin="round"/>
<path d="M398.3 606.7 L398.3 584.1 L406.2 557.0 L429.8 570.6 L435.9 597.7 L435.9 628.4Z" fill="#fff" stroke="#202020" stroke-width="1.0" stroke-linejoin="round"/>
<path d="M456.0 528.2 L479.6 541.8 L429.8 570.6 L406.2 557.0Z" fill="#fff" stroke="#202020" stroke-width="1.0" stroke-linejoin="round"/>
<path d="M464.6 547.6 L462.3 548.6 L459.7 549.4 L456.8 549.8 L453.8 549.8 L451.0 549.4 L448.3 548.6 L446.0 547.6 L444.2 546.3 L442.9 544.7 L442.3 543.1 L442.3 541.4 L442.9 539.7 L444.2 538.2 L446.0 536.9 L448.3 535.8 L451.0 535.1 L453.8 534.7 L456.8 534.7 L459.7 535.1 L462.3 535.8 L464.6 536.9 L466.4 538.2 L467.7 539.7 L468.4 541.4 L468.4 543.1 L467.7 544.7 L466.4 546.3 L464.6 547.6Z" fill="#fff" stroke="#202020" stroke-width="1.0" stroke-linejoin="round"/>
<path d="M444.9 545.0 L445.4 544.1 L446.2 543.2 L447.3 542.5 L448.5 541.8 L449.9 541.2 L451.4 540.8 L453.1 540.5 L454.8 540.4 L456.5 540.4 L458.1 540.6 L459.7 540.9 L461.2 541.4 L462.6 542.0 L463.7 542.7 L464.7 543.5 L465.4 544.4 L465.9 545.3 L466.1 546.3 L466.1 547.3 L465.8 548.3" fill="none" stroke="#202020" stroke-width="1.0" stroke-linejoin="round"/>
<path d="M445.7 546.6 L463.9 546.6" fill="none" stroke="#202020" stroke-width="1.0" stroke-linejoin="round"/>
<path d="M455.3 546.6 L455.3 551.1" fill="none" stroke="#202020" stroke-width="1.0" stroke-linejoin="round"/>
<path d="M450.5 548.3 L450.5 552.7" fill="none" stroke="#202020" stroke-width="1.0" stroke-linejoin="round"/>
<path d="M439.7 561.9 L437.4 563.0 L434.8 563.7 L431.9 564.1 L429.0 564.1 L426.1 563.7 L423.5 563.0 L421.2 561.9 L419.3 560.6 L418.0 559.1 L417.4 557.4 L417.4 555.7 L418.0 554.1 L419.3 552.6 L421.2 551.2 L423.5 550.2 L426.1 549.4 L429.0 549.1 L431.9 549.1 L434.8 549.4 L437.4 550.2 L439.7 551.2 L441.6 552.6 L442.8 554.1 L443.5 555.7 L443.5 557.4 L442.8 559.1 L441.6 560.6 L439.7 561.9Z" fill="#fff" stroke="#202020" stroke-width="1.0" stroke-linejoin="round"/>
<path d="M420.0 559.4 L420.5 558.5 L421.4 557.6 L422.4 556.8 L423.6 556.1 L425.0 555.6 L426.6 555.2 L428.2 554.9 L429.9 554.8 L431.6 554.8 L433.2 555.0 L434.8 555.3 L436.3 555.8 L437.7 556.4 L438.9 557.1 L439.8 557.9 L440.5 558.8 L441.0 559.7 L441.2 560.7 L441.2 561.7 L440.9 562.6" fill="none" stroke="#202020" stroke-width="1.0" stroke-linejoin="round"/>
<path d="M420.9 561.0 L439.0 561.0" fill="none" stroke="#202020" stroke-width="1.0" stroke-linejoin="round"/>
<path d="M430.4 561.0 L430.4 565.4" fill="none" stroke="#202020" stroke-width="1.0" stroke-linejoin="round"/>
<path d="M425.7 562.7 L425.7 567.1" fill="none" stroke="#202020" stroke-width="1.0" stroke-linejoin="round"/>
<path d="M484.7 599.1 L436.8 626.7 L436.8 598.8 L484.7 571.2Z" fill="none" stroke="#202020" stroke-width="1.0" stroke-linejoin="round"/>
<path d="M482.8 596.9 L464.1 607.7 L464.1 586.4 L482.8 575.6Z" fill="#fff" stroke="#202020" stroke-width="1.0" stroke-linejoin="round"/>
<path d="M464.1 597.0 L473.4 591.6 L473.4 581.0" fill="none" stroke="#202020" stroke-width="1.0" stroke-linejoin="round"/>
<path d="M473.4 591.6 L482.8 596.9" fill="none" stroke="#202020" stroke-width="1.0" stroke-linejoin="round"/>
<path d="M466.5 595.6 L466.5 585.0" fill="none" stroke="#202020" stroke-width="1.0" stroke-linejoin="round"/>
<path d="M457.9 611.3 L439.2 622.0 L439.2 600.7 L457.9 589.9Z" fill="#fff" stroke="#202020" stroke-width="1.0" stroke-linejoin="round"/>
<path d="M439.2 611.4 L448.5 606.0 L448.5 595.3" fill="none" stroke="#202020" stroke-width="1.0" stroke-linejoin="round"/>
<path d="M448.5 606.0 L457.9 611.3" fill="none" stroke="#202020" stroke-width="1.0" stroke-linejoin="round"/>
<path d="M441.6 610.0 L441.6 599.3" fill="none" stroke="#202020" stroke-width="1.0" stroke-linejoin="round"/>
<path d="M432.5 626.5 L430.1 627.8 L430.1 602.4 L432.5 601.0Z" fill="#fff" stroke="#202020" stroke-width="1.0" stroke-linejoin="round"/>
<path d="M426.8 625.9 L430.1 627.8 L430.1 602.4 L426.8 600.5Z" fill="#fff" stroke="#202020" stroke-width="1.0" stroke-linejoin="round"/>
<path d="M429.2 599.1 L432.5 601.0 L430.1 602.4 L426.8 600.5Z" fill="#fff" stroke="#202020" stroke-width="1.0" stroke-linejoin="round"/></g>
<g id="isoR"><path d="M839.3 503.9 L841.4 505.4 L843.5 507.3 L845.4 509.6 L847.1 512.1 L848.4 514.8 L849.4 517.6 L850.1 520.4 L850.3 523.0 L850.3 628.8 L850.1 631.1 L849.4 633.1 L848.4 634.8 L847.1 635.9 L845.4 636.5 L843.5 636.6 L841.4 636.1 L839.3 635.1 L455.3 413.4 L453.1 411.9 L451.1 410.0 L449.2 407.8 L447.5 405.2 L446.1 402.5 L445.1 399.7 L444.5 397.0 L444.3 394.4 L444.3 288.6 L444.5 286.2 L445.1 284.2 L446.1 282.6 L447.5 281.4 L449.2 280.8 L451.1 280.7 L453.1 281.2 L455.3 282.2Z" fill="#fff" stroke="#202020" stroke-width="1.0" stroke-linejoin="round"/>
<path d="M837.1 505.2 L839.2 506.7 L841.3 508.6 L843.2 510.8 L844.9 513.4 L846.2 516.1 L847.2 518.9 L847.9 521.6 L848.1 524.2 L848.1 630.0 L847.9 632.4 L847.2 634.4 L846.2 636.0 L844.9 637.2 L843.2 637.8 L841.3 637.9 L839.2 637.4 L837.1 636.4 L453.1 414.7 L450.9 413.2 L448.9 411.3 L447.0 409.0 L445.3 406.5 L443.9 403.8 L442.9 401.0 L442.3 398.2 L442.1 395.6 L442.1 289.8 L442.3 287.5 L442.9 285.5 L443.9 283.8 L445.3 282.7 L447.0 282.1 L448.9 282.0 L450.9 282.5 L453.1 283.5Z" fill="#fff" stroke="#202020" stroke-width="1.0" stroke-linejoin="round"/>
<path d="M460.4 302.6 L460.2 304.1 L459.6 305.3 L458.8 306.1 L457.7 306.4 L456.4 306.3 L455.0 305.7 L453.6 304.7 L452.3 303.3 L451.2 301.7 L450.4 299.9 L449.8 298.1 L449.6 296.4 L449.8 294.9 L450.4 293.7 L451.2 292.9 L452.3 292.6 L453.6 292.7 L455.0 293.3 L456.4 294.3 L457.7 295.7 L458.8 297.3 L459.6 299.1 L460.2 300.9 L460.4 302.6Z" fill="#fff" stroke="#202020" stroke-width="1.0" stroke-linejoin="round"/>
<path d="M453.0 304.6 L452.0 303.7 L451.1 302.6 L450.3 301.4 L449.6 300.1 L449.1 298.7 L448.8 297.4 L448.7 296.2 L448.8 295.0 L449.1 294.1 L449.6 293.3 L450.3 292.8 L451.1 292.5 L452.0 292.5 L453.0 292.7" fill="none" stroke="#202020" stroke-width="1.0" stroke-linejoin="round"/>
<path d="M460.4 404.3 L460.2 405.8 L459.6 406.9 L458.8 407.7 L457.7 408.1 L456.4 407.9 L455.0 407.3 L453.6 406.3 L452.3 405.0 L451.2 403.3 L450.4 401.6 L449.8 399.8 L449.6 398.1 L449.8 396.6 L450.4 395.4 L451.2 394.6 L452.3 394.3 L453.6 394.4 L455.0 395.0 L456.4 396.0 L457.7 397.3 L458.8 399.0 L459.6 400.7 L460.2 402.5 L460.4 404.3Z" fill="#fff" stroke="#202020" stroke-width="1.0" stroke-linejoin="round"/>
<path d="M453.0 406.2 L452.0 405.3 L451.1 404.2 L450.3 403.0 L449.6 401.7 L449.1 400.4 L448.8 399.1 L448.7 397.8 L448.8 396.7 L449.1 395.7 L449.6 395.0 L450.3 394.4 L451.1 394.2 L452.0 394.1 L453.0 394.4" fill="none" stroke="#202020" stroke-width="1.0" stroke-linejoin="round"/>
<path d="M840.5 522.0 L840.3 523.6 L839.7 524.8 L838.8 525.6 L837.7 526.0 L836.4 525.9 L834.9 525.3 L833.5 524.2 L832.1 522.8 L831.0 521.1 L830.1 519.3 L829.6 517.4 L829.4 515.6 L829.6 514.1 L830.1 512.9 L831.0 512.0 L832.1 511.7 L833.5 511.8 L834.9 512.4 L836.4 513.5 L837.7 514.9 L838.8 516.6 L839.7 518.4 L840.3 520.3 L840.5 522.0Z" fill="#fff" stroke="#202020" stroke-width="1.0" stroke-linejoin="round"/>
<path d="M832.9 524.1 L831.9 523.2 L830.9 522.0 L830.1 520.8 L829.4 519.4 L828.9 518.1 L828.6 516.7 L828.5 515.4 L828.6 514.2 L828.9 513.2 L829.4 512.4 L830.1 511.9 L830.9 511.6 L831.9 511.6 L832.9 511.8" fill="none" stroke="#202020" stroke-width="1.0" stroke-linejoin="round"/>
<path d="M840.5 623.7 L840.3 625.3 L839.7 626.5 L838.8 627.3 L837.7 627.7 L836.4 627.5 L834.9 626.9 L833.5 625.9 L832.1 624.5 L831.0 622.8 L830.1 620.9 L829.6 619.1 L829.4 617.3 L829.6 615.7 L830.1 614.5 L831.0 613.7 L832.1 613.3 L833.5 613.5 L834.9 614.1 L836.4 615.1 L837.7 616.6 L838.8 618.2 L839.7 620.1 L840.3 621.9 L840.5 623.7Z" fill="#fff" stroke="#202020" stroke-width="1.0" stroke-linejoin="round"/>
<path d="M832.9 625.8 L831.9 624.8 L830.9 623.7 L830.1 622.5 L829.4 621.1 L828.9 619.7 L828.6 618.4 L828.5 617.1 L828.6 615.9 L828.9 614.9 L829.4 614.1 L830.1 613.6 L830.9 613.3 L831.9 613.2 L832.9 613.5" fill="none" stroke="#202020" stroke-width="1.0" stroke-linejoin="round"/>
<path d="M457.9 345.1 L457.9 387.2 L423.4 407.1 L423.4 365.0Z" fill="#fff" stroke="#202020" stroke-width="1.0" stroke-linejoin="round"/>
<path d="M454.0 342.9 L457.9 345.1 L423.4 365.0 L419.6 362.8Z" fill="#fff" stroke="#202020" stroke-width="1.0" stroke-linejoin="round"/>
<path d="M419.6 362.8 L423.4 365.0 L423.4 407.1 L419.6 404.9Z" fill="#fff" stroke="#202020" stroke-width="1.0" stroke-linejoin="round"/>
<path d="M473.7 391.9 L473.7 396.4 L439.2 416.2 L439.2 411.8Z" fill="#fff" stroke="#202020" stroke-width="1.0" stroke-linejoin="round"/>
<path d="M457.9 382.8 L473.7 391.9 L439.2 411.8 L423.4 402.7Z" fill="#fff" stroke="#202020" stroke-width="1.0" stroke-linejoin="round"/>
<path d="M423.4 402.7 L439.2 411.8 L439.2 416.2 L423.4 407.1Z" fill="#fff" stroke="#202020" stroke-width="1.0" stroke-linejoin="round"/>
<path d="M478.9 395.0 L478.9 399.4 L467.4 406.0 L467.4 401.6Z" fill="#fff" stroke="#202020" stroke-width="1.0" stroke-linejoin="round"/>
<path d="M473.7 391.9 L478.9 395.0 L467.4 401.6 L462.2 398.6Z" fill="#fff" stroke="#202020" stroke-width="1.0" stroke-linejoin="round"/>
<path d="M462.2 398.6 L467.4 401.6 L467.4 406.0 L462.2 403.0Z" fill="#fff" stroke="#202020" stroke-width="1.0" stroke-linejoin="round"/>
<path d="M482.7 363.9 L482.7 397.2 L478.0 399.9 L478.0 366.6Z" fill="#fff" stroke="#202020" stroke-width="1.0" stroke-linejoin="round"/>
<path d="M457.9 349.5 L482.7 363.9 L478.0 366.6 L453.1 352.3Z" fill="#fff" stroke="#202020" stroke-width="1.0" stroke-linejoin="round"/>
<path d="M453.1 352.3 L478.0 366.6 L478.0 399.9 L453.1 385.6Z" fill="#fff" stroke="#202020" stroke-width="1.0" stroke-linejoin="round"/>
<path d="M464.8 381.0 L464.8 384.7 L440.9 398.5 L440.9 394.8Z" fill="#fff" stroke="#202020" stroke-width="1.0" stroke-linejoin="round"/>
<path d="M461.7 379.2 L464.8 381.0 L440.9 394.8 L437.8 393.0Z" fill="#fff" stroke="#202020" stroke-width="1.0" stroke-linejoin="round"/>
<path d="M437.8 393.0 L440.9 394.8 L440.9 398.5 L437.8 396.7Z" fill="#fff" stroke="#202020" stroke-width="1.0" stroke-linejoin="round"/>
<path d="M482.7 395.0 L482.7 401.6 L452.6 419.0 L452.6 412.4Z" fill="#fff" stroke="#202020" stroke-width="1.0" stroke-linejoin="round"/>
<path d="M478.9 392.8 L482.7 395.0 L452.6 412.4 L448.8 410.2Z" fill="#fff" stroke="#202020" stroke-width="1.0" stroke-linejoin="round"/>
<path d="M448.8 410.2 L452.6 412.4 L452.6 419.0 L448.8 416.8Z" fill="#fff" stroke="#202020" stroke-width="1.0" stroke-linejoin="round"/>
<path d="M464.8 366.8 L464.8 370.4 L440.9 384.2 L440.9 380.6Z" fill="#fff" stroke="#202020" stroke-width="1.0" stroke-linejoin="round"/>
<path d="M461.7 364.9 L464.8 366.8 L440.9 380.6 L437.8 378.8Z" fill="#fff" stroke="#202020" stroke-width="1.0" stroke-linejoin="round"/>
<path d="M437.8 378.8 L440.9 380.6 L440.9 384.2 L437.8 382.4Z" fill="#fff" stroke="#202020" stroke-width="1.0" stroke-linejoin="round"/>
<path d="M482.7 370.5 L482.7 390.6 L452.6 408.0 L452.6 387.9Z" fill="#fff" stroke="#202020" stroke-width="1.0" stroke-linejoin="round"/>
<path d="M478.9 368.3 L482.7 370.5 L452.6 387.9 L448.8 385.7Z" fill="#fff" stroke="#202020" stroke-width="1.0" stroke-linejoin="round"/>
<path d="M448.8 385.7 L452.6 387.9 L452.6 408.0 L448.8 405.7Z" fill="#fff" stroke="#202020" stroke-width="1.0" stroke-linejoin="round"/>
<path d="M473.7 354.2 L473.7 358.6 L439.2 378.5 L439.2 374.1Z" fill="#fff" stroke="#202020" stroke-width="1.0" stroke-linejoin="round"/>
<path d="M457.9 345.1 L473.7 354.2 L439.2 374.1 L423.4 365.0Z" fill="#fff" stroke="#202020" stroke-width="1.0" stroke-linejoin="round"/>
<path d="M423.4 365.0 L439.2 374.1 L439.2 378.5 L423.4 369.4Z" fill="#fff" stroke="#202020" stroke-width="1.0" stroke-linejoin="round"/>
<path d="M478.9 357.2 L478.9 361.7 L467.4 368.3 L467.4 363.9Z" fill="#fff" stroke="#202020" stroke-width="1.0" stroke-linejoin="round"/>
<path d="M473.7 354.2 L478.9 357.2 L467.4 363.9 L462.2 360.8Z" fill="#fff" stroke="#202020" stroke-width="1.0" stroke-linejoin="round"/>
<path d="M462.2 360.8 L467.4 363.9 L467.4 368.3 L462.2 365.2Z" fill="#fff" stroke="#202020" stroke-width="1.0" stroke-linejoin="round"/>
<path d="M482.7 359.4 L482.7 366.1 L452.6 383.5 L452.6 376.9Z" fill="#fff" stroke="#202020" stroke-width="1.0" stroke-linejoin="round"/>
<path d="M478.9 357.2 L482.7 359.4 L452.6 376.9 L448.8 374.6Z" fill="#fff" stroke="#202020" stroke-width="1.0" stroke-linejoin="round"/>
<path d="M448.8 374.6 L452.6 376.9 L452.6 383.5 L448.8 381.3Z" fill="#fff" stroke="#202020" stroke-width="1.0" stroke-linejoin="round"/>
<path d="M419.6 362.8 L419.6 404.9 L439.2 416.2 L439.2 411.8 L423.4 402.7 L423.4 369.4 L439.2 378.5 L439.2 374.1Z" fill="#fff" stroke="#202020" stroke-width="1.0" stroke-linejoin="round"/>
<path d="M454.0 342.9 L473.7 354.2 L439.2 374.1 L419.6 362.8Z" fill="#fff" stroke="#202020" stroke-width="1.0" stroke-linejoin="round"/>
<path d="M478.9 342.0 L478.9 349.2 L476.0 350.9 L476.0 343.7Z" fill="#fff" stroke="#202020" stroke-width="1.0" stroke-linejoin="round"/>
<path d="M464.6 333.8 L478.9 342.0 L476.0 343.7 L461.7 335.4Z" fill="#fff" stroke="#202020" stroke-width="1.0" stroke-linejoin="round"/>
<path d="M461.7 335.4 L476.0 343.7 L476.0 350.9 L461.7 342.6Z" fill="#fff" stroke="#202020" stroke-width="1.0" stroke-linejoin="round"/>
<path d="M483.2 408.6 L483.2 363.3 L467.2 372.6 L467.2 417.9Z" fill="#fff" stroke="#202020" stroke-width="1.0" stroke-linejoin="round"/>
<path d="M533.5 437.6 L483.2 408.6 L467.2 417.9 L517.4 446.9Z" fill="#fff" stroke="#202020" stroke-width="1.0" stroke-linejoin="round"/>
<path d="M483.2 363.3 L493.3 357.5 L477.2 366.8 L467.2 372.6Z" fill="#fff" stroke="#202020" stroke-width="1.0" stroke-linejoin="round"/>
<path d="M533.5 392.3 L533.5 437.6 L517.4 446.9 L517.4 401.6Z" fill="#fff" stroke="#202020" stroke-width="1.0" stroke-linejoin="round"/>
<path d="M493.3 357.5 L523.4 374.9 L507.4 384.2 L477.2 366.8Z" fill="#fff" stroke="#202020" stroke-width="1.0" stroke-linejoin="round"/>
<path d="M523.4 374.9 L533.5 392.3 L517.4 401.6 L507.4 384.2Z" fill="#fff" stroke="#202020" stroke-width="1.0" stroke-linejoin="round"/>
<path d="M477.2 366.8 L507.4 384.2 L517.4 401.6 L517.4 446.9 L467.2 417.9 L467.2 372.6Z" fill="#fff" stroke="#202020" stroke-width="1.0" stroke-linejoin="round"/>
<path d="M516.4 417.8 L516.2 421.3 L515.6 424.5 L514.6 427.4 L513.2 429.8 L511.4 431.9 L509.4 433.4 L507.0 434.4 L504.4 434.9 L501.5 434.9 L498.6 434.4 L495.5 433.3 L492.3 431.7 L489.2 429.7 L486.1 427.2 L483.1 424.3 L480.3 421.0 L477.6 417.5 L475.3 413.7 L473.2 409.8 L471.4 405.7 L470.0 401.7 L469.0 397.6 L468.4 393.7 L468.2 389.9 L468.4 386.4 L469.0 383.2 L470.0 380.3 L471.4 377.9 L473.2 375.9 L475.3 374.3 L477.6 373.3 L480.3 372.8 L483.1 372.8 L486.1 373.4 L489.2 374.4 L492.3 376.0 L495.5 378.1 L498.6 380.6 L501.5 383.5 L504.4 386.7 L507.0 390.3 L509.4 394.0 L511.4 398.0 L513.2 402.0 L514.6 406.1 L515.6 410.1 L516.2 414.0 L516.4 417.8Z" fill="#fff" stroke="none" stroke-width="1.0" stroke-linejoin="round"/>
<path d="M509.4 433.4 L474.4 453.6 L440.3 394.5 L475.3 374.3Z" fill="#fff" stroke="none" stroke-width="1.0" stroke-linejoin="round"/>
<path d="M509.4 433.4 L474.4 453.6" fill="none" stroke="#202020" stroke-width="1.0" stroke-linejoin="round"/>
<path d="M475.3 374.3 L440.3 394.5" fill="none" stroke="#202020" stroke-width="1.0" stroke-linejoin="round"/>
<path d="M481.5 438.0 L481.2 441.5 L480.6 444.7 L479.6 447.6 L478.2 450.0 L476.5 452.1 L474.4 453.6 L472.0 454.6 L469.4 455.1 L466.6 455.1 L463.6 454.6 L460.5 453.5 L457.3 451.9 L454.2 449.9 L451.1 447.4 L448.1 444.5 L445.3 441.2 L442.7 437.7 L440.3 433.9 L438.2 430.0 L436.5 425.9 L435.1 421.9 L434.0 417.8 L433.4 413.9 L433.2 410.1 L433.4 406.6 L434.0 403.4 L435.1 400.5 L436.5 398.1 L438.2 396.1 L440.3 394.5 L442.7 393.5 L445.3 393.0 L448.1 393.0 L451.1 393.6 L454.2 394.6 L457.3 396.2 L460.5 398.3 L463.6 400.8 L466.6 403.7 L469.4 406.9 L472.0 410.4 L474.4 414.2 L476.5 418.2 L478.2 422.2 L479.6 426.3 L480.6 430.3 L481.2 434.2 L481.5 438.0Z" fill="#fff" stroke="#202020" stroke-width="1.0" stroke-linejoin="round"/>
<path d="M545.0 433.8 L545.0 444.8 L540.6 447.3 L540.6 436.2Z" fill="#fff" stroke="#202020" stroke-width="1.0" stroke-linejoin="round"/>
<path d="M537.8 429.6 L545.0 433.8 L540.6 436.2 L533.5 432.1Z" fill="#fff" stroke="#202020" stroke-width="1.0" stroke-linejoin="round"/>
<path d="M533.5 432.1 L540.6 436.2 L540.6 447.3 L533.5 443.1Z" fill="#fff" stroke="#202020" stroke-width="1.0" stroke-linejoin="round"/>
<path d="M553.6 416.1 L553.6 427.1 L550.7 428.8 L550.7 417.7Z" fill="#fff" stroke="#202020" stroke-width="1.0" stroke-linejoin="round"/>
<path d="M547.6 412.6 L553.6 416.1 L550.7 417.7 L544.7 414.3Z" fill="#fff" stroke="#202020" stroke-width="1.0" stroke-linejoin="round"/>
<path d="M544.7 414.3 L550.7 417.7 L550.7 428.8 L544.7 425.3Z" fill="#fff" stroke="#202020" stroke-width="1.0" stroke-linejoin="round"/>
<path d="M492.3 338.2 L492.3 340.9 L489.0 342.9 L489.0 340.1Z" fill="#fff" stroke="#202020" stroke-width="1.0" stroke-linejoin="round"/>
<path d="M488.0 335.7 L492.3 338.2 L489.0 340.1 L484.7 337.6Z" fill="#fff" stroke="#202020" stroke-width="1.0" stroke-linejoin="round"/>
<path d="M484.7 337.6 L489.0 340.1 L489.0 342.9 L484.7 340.4Z" fill="#fff" stroke="#202020" stroke-width="1.0" stroke-linejoin="round"/>
<path d="M492.3 331.0 L492.3 333.8 L489.0 335.7 L489.0 332.9Z" fill="#fff" stroke="#202020" stroke-width="1.0" stroke-linejoin="round"/>
<path d="M488.0 328.5 L492.3 331.0 L489.0 332.9 L484.7 330.4Z" fill="#fff" stroke="#202020" stroke-width="1.0" stroke-linejoin="round"/>
<path d="M484.7 330.4 L489.0 332.9 L489.0 335.7 L484.7 333.2Z" fill="#fff" stroke="#202020" stroke-width="1.0" stroke-linejoin="round"/>
<path d="M492.3 323.8 L492.3 326.6 L489.0 328.5 L489.0 325.7Z" fill="#fff" stroke="#202020" stroke-width="1.0" stroke-linejoin="round"/>
<path d="M488.0 321.3 L492.3 323.8 L489.0 325.7 L484.7 323.3Z" fill="#fff" stroke="#202020" stroke-width="1.0" stroke-linejoin="round"/>
<path d="M484.7 323.3 L489.0 325.7 L489.0 328.5 L484.7 326.0Z" fill="#fff" stroke="#202020" stroke-width="1.0" stroke-linejoin="round"/>
<path d="M492.3 316.9 L492.3 319.7 L489.0 321.6 L489.0 318.8Z" fill="#fff" stroke="#202020" stroke-width="1.0" stroke-linejoin="round"/>
<path d="M488.0 314.4 L492.3 316.9 L489.0 318.8 L484.7 316.4Z" fill="#fff" stroke="#202020" stroke-width="1.0" stroke-linejoin="round"/>
<path d="M484.7 316.4 L489.0 318.8 L489.0 321.6 L484.7 319.1Z" fill="#fff" stroke="#202020" stroke-width="1.0" stroke-linejoin="round"/>
<path d="M509.8 326.7 L509.8 354.3 L500.7 359.6 L500.7 332.0Z" fill="#fff" stroke="#202020" stroke-width="1.0" stroke-linejoin="round"/>
<path d="M490.9 315.8 L509.8 326.7 L500.7 332.0 L481.8 321.0Z" fill="#fff" stroke="#202020" stroke-width="1.0" stroke-linejoin="round"/>
<path d="M481.8 321.0 L500.7 332.0 L500.7 359.6 L481.8 348.7Z" fill="#fff" stroke="#202020" stroke-width="1.0" stroke-linejoin="round"/>
<path d="M515.5 351.6 L515.5 354.3 L512.2 356.3 L512.2 353.5Z" fill="#fff" stroke="#202020" stroke-width="1.0" stroke-linejoin="round"/>
<path d="M511.2 349.1 L515.5 351.6 L512.2 353.5 L507.9 351.0Z" fill="#fff" stroke="#202020" stroke-width="1.0" stroke-linejoin="round"/>
<path d="M507.9 351.0 L512.2 353.5 L512.2 356.3 L507.9 353.8Z" fill="#fff" stroke="#202020" stroke-width="1.0" stroke-linejoin="round"/>
<path d="M515.5 344.4 L515.5 347.2 L512.2 349.1 L512.2 346.3Z" fill="#fff" stroke="#202020" stroke-width="1.0" stroke-linejoin="round"/>
<path d="M511.2 341.9 L515.5 344.4 L512.2 346.3 L507.9 343.8Z" fill="#fff" stroke="#202020" stroke-width="1.0" stroke-linejoin="round"/>
<path d="M507.9 343.8 L512.2 346.3 L512.2 349.1 L507.9 346.6Z" fill="#fff" stroke="#202020" stroke-width="1.0" stroke-linejoin="round"/>
<path d="M515.5 337.2 L515.5 340.0 L512.2 341.9 L512.2 339.1Z" fill="#fff" stroke="#202020" stroke-width="1.0" stroke-linejoin="round"/>
<path d="M511.2 334.7 L515.5 337.2 L512.2 339.1 L507.9 336.7Z" fill="#fff" stroke="#202020" stroke-width="1.0" stroke-linejoin="round"/>
<path d="M507.9 336.7 L512.2 339.1 L512.2 341.9 L507.9 339.4Z" fill="#fff" stroke="#202020" stroke-width="1.0" stroke-linejoin="round"/>
<path d="M515.5 330.3 L515.5 333.1 L512.2 335.0 L512.2 332.2Z" fill="#fff" stroke="#202020" stroke-width="1.0" stroke-linejoin="round"/>
<path d="M511.2 327.8 L515.5 330.3 L512.2 332.2 L507.9 329.7Z" fill="#fff" stroke="#202020" stroke-width="1.0" stroke-linejoin="round"/>
<path d="M507.9 329.7 L512.2 332.2 L512.2 335.0 L507.9 332.5Z" fill="#fff" stroke="#202020" stroke-width="1.0" stroke-linejoin="round"/>
<path d="M550.2 399.2 L550.2 406.4 L547.3 408.1 L547.3 400.9Z" fill="#fff" stroke="#202020" stroke-width="1.0" stroke-linejoin="round"/>
<path d="M540.6 393.7 L550.2 399.2 L547.3 400.9 L537.8 395.4Z" fill="#fff" stroke="#202020" stroke-width="1.0" stroke-linejoin="round"/>
<path d="M537.8 395.4 L547.3 400.9 L547.3 408.1 L537.8 402.5Z" fill="#fff" stroke="#202020" stroke-width="1.0" stroke-linejoin="round"/>
<path d="M565.3 453.8 L565.3 456.5 L561.9 458.5 L561.9 455.7Z" fill="#fff" stroke="#202020" stroke-width="1.0" stroke-linejoin="round"/>
<path d="M561.0 451.3 L565.3 453.8 L561.9 455.7 L557.6 453.2Z" fill="#fff" stroke="#202020" stroke-width="1.0" stroke-linejoin="round"/>
<path d="M557.6 453.2 L561.9 455.7 L561.9 458.5 L557.6 456.0Z" fill="#fff" stroke="#202020" stroke-width="1.0" stroke-linejoin="round"/>
<path d="M565.3 446.3 L565.3 449.1 L561.9 451.0 L561.9 448.3Z" fill="#fff" stroke="#202020" stroke-width="1.0" stroke-linejoin="round"/>
<path d="M561.0 443.8 L565.3 446.3 L561.9 448.3 L557.6 445.8Z" fill="#fff" stroke="#202020" stroke-width="1.0" stroke-linejoin="round"/>
<path d="M557.6 445.8 L561.9 448.3 L561.9 451.0 L557.6 448.5Z" fill="#fff" stroke="#202020" stroke-width="1.0" stroke-linejoin="round"/>
<path d="M565.3 439.1 L565.3 441.9 L561.9 443.8 L561.9 441.1Z" fill="#fff" stroke="#202020" stroke-width="1.0" stroke-linejoin="round"/>
<path d="M561.0 436.7 L565.3 439.1 L561.9 441.1 L557.6 438.6Z" fill="#fff" stroke="#202020" stroke-width="1.0" stroke-linejoin="round"/>
<path d="M557.6 438.6 L561.9 441.1 L561.9 443.8 L557.6 441.4Z" fill="#fff" stroke="#202020" stroke-width="1.0" stroke-linejoin="round"/>
<path d="M565.3 432.0 L565.3 434.7 L561.9 436.7 L561.9 433.9Z" fill="#fff" stroke="#202020" stroke-width="1.0" stroke-linejoin="round"/>
<path d="M561.0 429.5 L565.3 432.0 L561.9 433.9 L557.6 431.4Z" fill="#fff" stroke="#202020" stroke-width="1.0" stroke-linejoin="round"/>
<path d="M557.6 431.4 L561.9 433.9 L561.9 436.7 L557.6 434.2Z" fill="#fff" stroke="#202020" stroke-width="1.0" stroke-linejoin="round"/>
<path d="M582.5 442.2 L582.5 469.5 L575.3 473.7 L575.3 446.3Z" fill="#fff" stroke="#202020" stroke-width="1.0" stroke-linejoin="round"/>
<path d="M563.9 431.4 L582.5 442.2 L575.3 446.3 L556.7 435.6Z" fill="#fff" stroke="#202020" stroke-width="1.0" stroke-linejoin="round"/>
<path d="M556.7 435.6 L575.3 446.3 L575.3 473.7 L556.7 462.9Z" fill="#fff" stroke="#202020" stroke-width="1.0" stroke-linejoin="round"/>
<path d="M588.3 467.0 L588.3 469.8 L584.9 471.7 L584.9 469.0Z" fill="#fff" stroke="#202020" stroke-width="1.0" stroke-linejoin="round"/>
<path d="M583.9 464.6 L588.3 467.0 L584.9 469.0 L580.6 466.5Z" fill="#fff" stroke="#202020" stroke-width="1.0" stroke-linejoin="round"/>
<path d="M580.6 466.5 L584.9 469.0 L584.9 471.7 L580.6 469.3Z" fill="#fff" stroke="#202020" stroke-width="1.0" stroke-linejoin="round"/>
<path d="M588.3 459.6 L588.3 462.3 L584.9 464.3 L584.9 461.5Z" fill="#fff" stroke="#202020" stroke-width="1.0" stroke-linejoin="round"/>
<path d="M583.9 457.1 L588.3 459.6 L584.9 461.5 L580.6 459.0Z" fill="#fff" stroke="#202020" stroke-width="1.0" stroke-linejoin="round"/>
<path d="M580.6 459.0 L584.9 461.5 L584.9 464.3 L580.6 461.8Z" fill="#fff" stroke="#202020" stroke-width="1.0" stroke-linejoin="round"/>
<path d="M588.3 452.4 L588.3 455.2 L584.9 457.1 L584.9 454.3Z" fill="#fff" stroke="#202020" stroke-width="1.0" stroke-linejoin="round"/>
<path d="M583.9 449.9 L588.3 452.4 L584.9 454.3 L580.6 451.9Z" fill="#fff" stroke="#202020" stroke-width="1.0" stroke-linejoin="round"/>
<path d="M580.6 451.9 L584.9 454.3 L584.9 457.1 L580.6 454.6Z" fill="#fff" stroke="#202020" stroke-width="1.0" stroke-linejoin="round"/>
<path d="M588.3 445.2 L588.3 448.0 L584.9 449.9 L584.9 447.2Z" fill="#fff" stroke="#202020" stroke-width="1.0" stroke-linejoin="round"/>
<path d="M583.9 442.7 L588.3 445.2 L584.9 447.2 L580.6 444.7Z" fill="#fff" stroke="#202020" stroke-width="1.0" stroke-linejoin="round"/>
<path d="M580.6 444.7 L584.9 447.2 L584.9 449.9 L580.6 447.4Z" fill="#fff" stroke="#202020" stroke-width="1.0" stroke-linejoin="round"/>
<path d="M528.7 349.8 L528.7 361.9 L523.9 364.7 L523.9 352.5Z" fill="#fff" stroke="#202020" stroke-width="1.0" stroke-linejoin="round"/>
<path d="M523.9 347.0 L528.7 349.8 L523.9 352.5 L519.1 349.8Z" fill="#fff" stroke="#202020" stroke-width="1.0" stroke-linejoin="round"/>
<path d="M519.1 349.8 L523.9 352.5 L523.9 364.7 L519.1 361.9Z" fill="#fff" stroke="#202020" stroke-width="1.0" stroke-linejoin="round"/>
<path d="M538.7 355.6 L538.7 367.7 L533.9 370.5 L533.9 358.3Z" fill="#fff" stroke="#202020" stroke-width="1.0" stroke-linejoin="round"/>
<path d="M533.9 352.8 L538.7 355.6 L533.9 358.3 L529.2 355.6Z" fill="#fff" stroke="#202020" stroke-width="1.0" stroke-linejoin="round"/>
<path d="M529.2 355.6 L533.9 358.3 L533.9 370.5 L529.2 367.7Z" fill="#fff" stroke="#202020" stroke-width="1.0" stroke-linejoin="round"/>
<path d="M588.5 431.5 L588.5 438.2 L583.7 440.9 L583.7 434.3Z" fill="#fff" stroke="#202020" stroke-width="1.0" stroke-linejoin="round"/>
<path d="M578.9 426.0 L588.5 431.5 L583.7 434.3 L574.1 428.8Z" fill="#fff" stroke="#202020" stroke-width="1.0" stroke-linejoin="round"/>
<path d="M574.1 428.8 L583.7 434.3 L583.7 440.9 L574.1 435.4Z" fill="#fff" stroke="#202020" stroke-width="1.0" stroke-linejoin="round"/>
<path d="M588.5 419.7 L588.5 426.3 L583.7 429.1 L583.7 422.4Z" fill="#fff" stroke="#202020" stroke-width="1.0" stroke-linejoin="round"/>
<path d="M578.9 414.1 L588.5 419.7 L583.7 422.4 L574.1 416.9Z" fill="#fff" stroke="#202020" stroke-width="1.0" stroke-linejoin="round"/>
<path d="M574.1 416.9 L583.7 422.4 L583.7 429.1 L574.1 423.5Z" fill="#fff" stroke="#202020" stroke-width="1.0" stroke-linejoin="round"/>
<path d="M553.1 387.9 L553.1 392.3 L522.9 409.7 L522.9 405.3Z" fill="#fff" stroke="#202020" stroke-width="1.0" stroke-linejoin="round"/>
<path d="M547.3 384.6 L553.1 387.9 L522.9 405.3 L517.2 402.0Z" fill="#fff" stroke="#202020" stroke-width="1.0" stroke-linejoin="round"/>
<path d="M517.2 402.0 L522.9 405.3 L522.9 409.7 L517.2 406.4Z" fill="#fff" stroke="#202020" stroke-width="1.0" stroke-linejoin="round"/>
<path d="M551.2 380.7 L551.2 386.8 L539.7 393.4 L539.7 387.3Z" fill="#fff" stroke="#202020" stroke-width="1.0" stroke-linejoin="round"/>
<path d="M547.3 378.5 L551.2 380.7 L539.7 387.3 L535.9 385.1Z" fill="#fff" stroke="#202020" stroke-width="1.0" stroke-linejoin="round"/>
<path d="M535.9 385.1 L539.7 387.3 L539.7 393.4 L535.9 391.2Z" fill="#fff" stroke="#202020" stroke-width="1.0" stroke-linejoin="round"/>
<path d="M569.8 397.6 L569.8 402.0 L539.7 419.4 L539.7 415.0Z" fill="#fff" stroke="#202020" stroke-width="1.0" stroke-linejoin="round"/>
<path d="M556.9 390.1 L569.8 397.6 L539.7 415.0 L526.8 407.5Z" fill="#fff" stroke="#202020" stroke-width="1.0" stroke-linejoin="round"/>
<path d="M526.8 407.5 L539.7 415.0 L539.7 419.4 L526.8 411.9Z" fill="#fff" stroke="#202020" stroke-width="1.0" stroke-linejoin="round"/>
<path d="M551.2 362.5 L551.2 380.7 L516.7 400.6 L516.7 382.4Z" fill="#fff" stroke="#202020" stroke-width="1.0" stroke-linejoin="round"/>
<path d="M547.3 360.3 L551.2 362.5 L516.7 382.4 L512.9 380.2Z" fill="#fff" stroke="#202020" stroke-width="1.0" stroke-linejoin="round"/>
<path d="M512.9 380.2 L516.7 382.4 L516.7 400.6 L512.9 398.4Z" fill="#fff" stroke="#202020" stroke-width="1.0" stroke-linejoin="round"/>
<path d="M592.4 386.3 L592.4 415.0 L587.6 417.8 L587.6 389.0Z" fill="#fff" stroke="#202020" stroke-width="1.0" stroke-linejoin="round"/>
<path d="M551.2 362.5 L592.4 386.3 L587.6 389.0 L546.4 365.2Z" fill="#fff" stroke="#202020" stroke-width="1.0" stroke-linejoin="round"/>
<path d="M546.4 365.2 L587.6 389.0 L587.6 417.8 L546.4 394.0Z" fill="#fff" stroke="#202020" stroke-width="1.0" stroke-linejoin="round"/>
<path d="M556.2 380.9 L556.2 384.5 L532.3 398.3 L532.3 394.7Z" fill="#fff" stroke="#202020" stroke-width="1.0" stroke-linejoin="round"/>
<path d="M553.1 379.0 L556.2 380.9 L532.3 394.7 L529.1 392.9Z" fill="#fff" stroke="#202020" stroke-width="1.0" stroke-linejoin="round"/>
<path d="M529.1 392.9 L532.3 394.7 L532.3 398.3 L529.1 396.5Z" fill="#fff" stroke="#202020" stroke-width="1.0" stroke-linejoin="round"/>
<path d="M586.6 407.2 L586.6 411.7 L556.4 429.1 L556.4 424.6Z" fill="#fff" stroke="#202020" stroke-width="1.0" stroke-linejoin="round"/>
<path d="M573.7 399.8 L586.6 407.2 L556.4 424.6 L543.5 417.2Z" fill="#fff" stroke="#202020" stroke-width="1.0" stroke-linejoin="round"/>
<path d="M543.5 417.2 L556.4 424.6 L556.4 429.1 L543.5 421.6Z" fill="#fff" stroke="#202020" stroke-width="1.0" stroke-linejoin="round"/>
<path d="M568.6 388.0 L568.6 391.6 L544.6 405.5 L544.6 401.8Z" fill="#fff" stroke="#202020" stroke-width="1.0" stroke-linejoin="round"/>
<path d="M565.4 386.2 L568.6 388.0 L544.6 401.8 L541.5 400.0Z" fill="#fff" stroke="#202020" stroke-width="1.0" stroke-linejoin="round"/>
<path d="M541.5 400.0 L544.6 401.8 L544.6 405.5 L541.5 403.6Z" fill="#fff" stroke="#202020" stroke-width="1.0" stroke-linejoin="round"/>
<path d="M596.2 412.8 L596.2 417.2 L566.1 434.6 L566.1 430.2Z" fill="#fff" stroke="#202020" stroke-width="1.0" stroke-linejoin="round"/>
<path d="M590.4 409.4 L596.2 412.8 L566.1 430.2 L560.3 426.9Z" fill="#fff" stroke="#202020" stroke-width="1.0" stroke-linejoin="round"/>
<path d="M560.3 426.9 L566.1 430.2 L566.1 434.6 L560.3 431.3Z" fill="#fff" stroke="#202020" stroke-width="1.0" stroke-linejoin="round"/>
<path d="M596.2 406.7 L596.2 412.8 L584.7 419.4 L584.7 413.3Z" fill="#fff" stroke="#202020" stroke-width="1.0" stroke-linejoin="round"/>
<path d="M592.4 404.5 L596.2 406.7 L584.7 413.3 L580.9 411.1Z" fill="#fff" stroke="#202020" stroke-width="1.0" stroke-linejoin="round"/>
<path d="M580.9 411.1 L584.7 413.3 L584.7 419.4 L580.9 417.2Z" fill="#fff" stroke="#202020" stroke-width="1.0" stroke-linejoin="round"/>
<path d="M580.9 395.1 L580.9 398.8 L557.0 412.6 L557.0 408.9Z" fill="#fff" stroke="#202020" stroke-width="1.0" stroke-linejoin="round"/>
<path d="M577.8 393.3 L580.9 395.1 L557.0 408.9 L553.8 407.1Z" fill="#fff" stroke="#202020" stroke-width="1.0" stroke-linejoin="round"/>
<path d="M553.8 407.1 L557.0 408.9 L557.0 412.6 L553.8 410.8Z" fill="#fff" stroke="#202020" stroke-width="1.0" stroke-linejoin="round"/>
<path d="M596.2 388.5 L596.2 406.7 L561.7 426.6 L561.7 408.4Z" fill="#fff" stroke="#202020" stroke-width="1.0" stroke-linejoin="round"/>
<path d="M592.4 386.3 L596.2 388.5 L561.7 408.4 L557.9 406.2Z" fill="#fff" stroke="#202020" stroke-width="1.0" stroke-linejoin="round"/>
<path d="M557.9 406.2 L561.7 408.4 L561.7 426.6 L557.9 424.4Z" fill="#fff" stroke="#202020" stroke-width="1.0" stroke-linejoin="round"/>
<path d="M596.2 384.1 L596.2 388.5 L561.7 408.4 L561.7 404.0Z" fill="#fff" stroke="#202020" stroke-width="1.0" stroke-linejoin="round"/>
<path d="M547.3 355.9 L596.2 384.1 L561.7 404.0 L512.9 375.7Z" fill="#fff" stroke="#202020" stroke-width="1.0" stroke-linejoin="round"/>
<path d="M512.9 375.7 L561.7 404.0 L561.7 408.4 L512.9 380.2Z" fill="#fff" stroke="#202020" stroke-width="1.0" stroke-linejoin="round"/>
<path d="M512.9 375.7 L561.7 404.0 L561.7 426.6 L557.9 424.4 L557.9 406.2 L516.7 382.4 L516.7 400.6 L512.9 398.4Z" fill="#fff" stroke="#202020" stroke-width="1.0" stroke-linejoin="round"/>
<path d="M547.3 355.9 L596.2 384.1 L561.7 404.0 L512.9 375.7Z" fill="#fff" stroke="#202020" stroke-width="1.0" stroke-linejoin="round"/>
<path d="M596.2 384.1 L596.2 406.7 L561.7 426.6 L561.7 404.0Z" fill="#fff" stroke="#202020" stroke-width="1.0" stroke-linejoin="round"/>
<path d="M609.8 422.8 L609.8 495.2 L597.3 502.4 L597.3 430.0Z" fill="#fff" stroke="#202020" stroke-width="1.0" stroke-linejoin="round"/>
<path d="M599.7 417.0 L609.8 422.8 L597.3 430.0 L587.3 424.2Z" fill="#fff" stroke="#202020" stroke-width="1.0" stroke-linejoin="round"/>
<path d="M587.3 424.2 L597.3 430.0 L597.3 502.4 L587.3 496.6Z" fill="#fff" stroke="#202020" stroke-width="1.0" stroke-linejoin="round"/>
<path d="M593.9 491.4 L593.9 495.1 L564.2 512.2 L564.2 508.5Z" fill="#fff" stroke="#202020" stroke-width="1.0" stroke-linejoin="round"/>
<path d="M590.7 489.6 L593.9 491.4 L564.2 508.5 L561.1 506.7Z" fill="#fff" stroke="#202020" stroke-width="1.0" stroke-linejoin="round"/>
<path d="M561.1 506.7 L564.2 508.5 L564.2 512.2 L561.1 510.4Z" fill="#fff" stroke="#202020" stroke-width="1.0" stroke-linejoin="round"/>
<path d="M593.9 476.9 L593.9 480.6 L564.2 497.7 L564.2 494.0Z" fill="#fff" stroke="#202020" stroke-width="1.0" stroke-linejoin="round"/>
<path d="M590.7 475.1 L593.9 476.9 L564.2 494.0 L561.1 492.2Z" fill="#fff" stroke="#202020" stroke-width="1.0" stroke-linejoin="round"/>
<path d="M561.1 492.2 L564.2 494.0 L564.2 497.7 L561.1 495.9Z" fill="#fff" stroke="#202020" stroke-width="1.0" stroke-linejoin="round"/>
<path d="M593.9 462.4 L593.9 466.1 L564.2 483.2 L564.2 479.5Z" fill="#fff" stroke="#202020" stroke-width="1.0" stroke-linejoin="round"/>
<path d="M590.7 460.6 L593.9 462.4 L564.2 479.5 L561.1 477.7Z" fill="#fff" stroke="#202020" stroke-width="1.0" stroke-linejoin="round"/>
<path d="M561.1 477.7 L564.2 479.5 L564.2 483.2 L561.1 481.4Z" fill="#fff" stroke="#202020" stroke-width="1.0" stroke-linejoin="round"/>
<path d="M593.9 447.9 L593.9 451.5 L564.2 468.7 L564.2 465.0Z" fill="#fff" stroke="#202020" stroke-width="1.0" stroke-linejoin="round"/>
<path d="M590.7 446.1 L593.9 447.9 L564.2 465.0 L561.1 463.2Z" fill="#fff" stroke="#202020" stroke-width="1.0" stroke-linejoin="round"/>
<path d="M561.1 463.2 L564.2 465.0 L564.2 468.7 L561.1 466.9Z" fill="#fff" stroke="#202020" stroke-width="1.0" stroke-linejoin="round"/>
<path d="M593.9 433.4 L593.9 437.0 L564.2 454.2 L564.2 450.5Z" fill="#fff" stroke="#202020" stroke-width="1.0" stroke-linejoin="round"/>
<path d="M590.7 431.6 L593.9 433.4 L564.2 450.5 L561.1 448.7Z" fill="#fff" stroke="#202020" stroke-width="1.0" stroke-linejoin="round"/>
<path d="M561.1 448.7 L564.2 450.5 L564.2 454.2 L561.1 452.3Z" fill="#fff" stroke="#202020" stroke-width="1.0" stroke-linejoin="round"/>
<path d="M629.2 464.1 L629.2 506.3 L594.7 526.2 L594.7 484.0Z" fill="#fff" stroke="#202020" stroke-width="1.0" stroke-linejoin="round"/>
<path d="M625.3 461.9 L629.2 464.1 L594.7 484.0 L590.9 481.8Z" fill="#fff" stroke="#202020" stroke-width="1.0" stroke-linejoin="round"/>
<path d="M590.9 481.8 L594.7 484.0 L594.7 526.2 L590.9 524.0Z" fill="#fff" stroke="#202020" stroke-width="1.0" stroke-linejoin="round"/>
<path d="M645.0 511.0 L645.0 515.4 L610.5 535.3 L610.5 530.9Z" fill="#fff" stroke="#202020" stroke-width="1.0" stroke-linejoin="round"/>
<path d="M629.2 501.9 L645.0 511.0 L610.5 530.9 L594.7 521.8Z" fill="#fff" stroke="#202020" stroke-width="1.0" stroke-linejoin="round"/>
<path d="M594.7 521.8 L610.5 530.9 L610.5 535.3 L594.7 526.2Z" fill="#fff" stroke="#202020" stroke-width="1.0" stroke-linejoin="round"/>
<path d="M650.2 514.0 L650.2 518.5 L638.7 525.1 L638.7 520.7Z" fill="#fff" stroke="#202020" stroke-width="1.0" stroke-linejoin="round"/>
<path d="M645.0 511.0 L650.2 514.0 L638.7 520.7 L633.5 517.6Z" fill="#fff" stroke="#202020" stroke-width="1.0" stroke-linejoin="round"/>
<path d="M633.5 517.6 L638.7 520.7 L638.7 525.1 L633.5 522.0Z" fill="#fff" stroke="#202020" stroke-width="1.0" stroke-linejoin="round"/>
<path d="M654.0 482.9 L654.0 516.2 L649.3 519.0 L649.3 485.7Z" fill="#fff" stroke="#202020" stroke-width="1.0" stroke-linejoin="round"/>
<path d="M629.2 468.6 L654.0 482.9 L649.3 485.7 L624.4 471.3Z" fill="#fff" stroke="#202020" stroke-width="1.0" stroke-linejoin="round"/>
<path d="M624.4 471.3 L649.3 485.7 L649.3 519.0 L624.4 504.6Z" fill="#fff" stroke="#202020" stroke-width="1.0" stroke-linejoin="round"/>
<path d="M636.2 500.1 L636.2 503.7 L612.2 517.5 L612.2 513.9Z" fill="#fff" stroke="#202020" stroke-width="1.0" stroke-linejoin="round"/>
<path d="M633.0 498.3 L636.2 500.1 L612.2 513.9 L609.1 512.1Z" fill="#fff" stroke="#202020" stroke-width="1.0" stroke-linejoin="round"/>
<path d="M609.1 512.1 L612.2 513.9 L612.2 517.5 L609.1 515.7Z" fill="#fff" stroke="#202020" stroke-width="1.0" stroke-linejoin="round"/>
<path d="M654.0 514.0 L654.0 520.7 L623.9 538.1 L623.9 531.4Z" fill="#fff" stroke="#202020" stroke-width="1.0" stroke-linejoin="round"/>
<path d="M650.2 511.8 L654.0 514.0 L623.9 531.4 L620.1 529.2Z" fill="#fff" stroke="#202020" stroke-width="1.0" stroke-linejoin="round"/>
<path d="M620.1 529.2 L623.9 531.4 L623.9 538.1 L620.1 535.9Z" fill="#fff" stroke="#202020" stroke-width="1.0" stroke-linejoin="round"/>
<path d="M636.2 485.8 L636.2 489.5 L612.2 503.3 L612.2 499.6Z" fill="#fff" stroke="#202020" stroke-width="1.0" stroke-linejoin="round"/>
<path d="M633.0 484.0 L636.2 485.8 L612.2 499.6 L609.1 497.8Z" fill="#fff" stroke="#202020" stroke-width="1.0" stroke-linejoin="round"/>
<path d="M609.1 497.8 L612.2 499.6 L612.2 503.3 L609.1 501.5Z" fill="#fff" stroke="#202020" stroke-width="1.0" stroke-linejoin="round"/>
<path d="M654.0 489.6 L654.0 509.6 L623.9 527.0 L623.9 507.0Z" fill="#fff" stroke="#202020" stroke-width="1.0" stroke-linejoin="round"/>
<path d="M650.2 487.4 L654.0 489.6 L623.9 507.0 L620.1 504.8Z" fill="#fff" stroke="#202020" stroke-width="1.0" stroke-linejoin="round"/>
<path d="M620.1 504.8 L623.9 507.0 L623.9 527.0 L620.1 524.8Z" fill="#fff" stroke="#202020" stroke-width="1.0" stroke-linejoin="round"/>
<path d="M645.0 473.3 L645.0 477.7 L610.5 497.6 L610.5 493.2Z" fill="#fff" stroke="#202020" stroke-width="1.0" stroke-linejoin="round"/>
<path d="M629.2 464.1 L645.0 473.3 L610.5 493.2 L594.7 484.0Z" fill="#fff" stroke="#202020" stroke-width="1.0" stroke-linejoin="round"/>
<path d="M594.7 484.0 L610.5 493.2 L610.5 497.6 L594.7 488.5Z" fill="#fff" stroke="#202020" stroke-width="1.0" stroke-linejoin="round"/>
<path d="M650.2 476.3 L650.2 480.7 L638.7 487.4 L638.7 482.9Z" fill="#fff" stroke="#202020" stroke-width="1.0" stroke-linejoin="round"/>
<path d="M645.0 473.3 L650.2 476.3 L638.7 482.9 L633.5 479.9Z" fill="#fff" stroke="#202020" stroke-width="1.0" stroke-linejoin="round"/>
<path d="M633.5 479.9 L638.7 482.9 L638.7 487.4 L633.5 484.3Z" fill="#fff" stroke="#202020" stroke-width="1.0" stroke-linejoin="round"/>
<path d="M654.0 478.5 L654.0 485.1 L623.9 502.5 L623.9 495.9Z" fill="#fff" stroke="#202020" stroke-width="1.0" stroke-linejoin="round"/>
<path d="M650.2 476.3 L654.0 478.5 L623.9 495.9 L620.1 493.7Z" fill="#fff" stroke="#202020" stroke-width="1.0" stroke-linejoin="round"/>
<path d="M620.1 493.7 L623.9 495.9 L623.9 502.5 L620.1 500.3Z" fill="#fff" stroke="#202020" stroke-width="1.0" stroke-linejoin="round"/>
<path d="M590.9 481.8 L590.9 524.0 L610.5 535.3 L610.5 530.9 L594.7 521.8 L594.7 488.5 L610.5 497.6 L610.5 493.2Z" fill="#fff" stroke="#202020" stroke-width="1.0" stroke-linejoin="round"/>
<path d="M625.3 461.9 L645.0 473.3 L610.5 493.2 L590.9 481.8Z" fill="#fff" stroke="#202020" stroke-width="1.0" stroke-linejoin="round"/>
<path d="M668.4 514.4 L668.4 525.5 L665.5 527.1 L665.5 516.1Z" fill="#fff" stroke="#202020" stroke-width="1.0" stroke-linejoin="round"/>
<path d="M663.1 511.4 L668.4 514.4 L665.5 516.1 L660.3 513.0Z" fill="#fff" stroke="#202020" stroke-width="1.0" stroke-linejoin="round"/>
<path d="M660.3 513.0 L665.5 516.1 L665.5 527.1 L660.3 524.1Z" fill="#fff" stroke="#202020" stroke-width="1.0" stroke-linejoin="round"/>
<path d="M638.7 448.1 L638.7 454.8 L635.9 456.4 L635.9 449.8Z" fill="#fff" stroke="#202020" stroke-width="1.0" stroke-linejoin="round"/>
<path d="M629.2 442.6 L638.7 448.1 L635.9 449.8 L626.3 444.3Z" fill="#fff" stroke="#202020" stroke-width="1.0" stroke-linejoin="round"/>
<path d="M626.3 444.3 L635.9 449.8 L635.9 456.4 L626.3 450.9Z" fill="#fff" stroke="#202020" stroke-width="1.0" stroke-linejoin="round"/>
<path d="M684.0 521.2 L684.0 536.7 L679.2 539.4 L679.2 524.0Z" fill="#fff" stroke="#202020" stroke-width="1.0" stroke-linejoin="round"/>
<path d="M678.0 517.7 L684.0 521.2 L679.2 524.0 L673.2 520.5Z" fill="#fff" stroke="#202020" stroke-width="1.0" stroke-linejoin="round"/>
<path d="M673.2 520.5 L679.2 524.0 L679.2 539.4 L673.2 536.0Z" fill="#fff" stroke="#202020" stroke-width="1.0" stroke-linejoin="round"/>
<path d="M620.1 409.7 L620.1 416.4 L617.2 418.0 L617.2 411.4Z" fill="#fff" stroke="#202020" stroke-width="1.0" stroke-linejoin="round"/>
<path d="M610.5 404.2 L620.1 409.7 L617.2 411.4 L607.6 405.9Z" fill="#fff" stroke="#202020" stroke-width="1.0" stroke-linejoin="round"/>
<path d="M607.6 405.9 L617.2 411.4 L617.2 418.0 L607.6 412.5Z" fill="#fff" stroke="#202020" stroke-width="1.0" stroke-linejoin="round"/>
<path d="M651.2 456.1 L651.2 462.2 L647.3 464.4 L647.3 458.3Z" fill="#fff" stroke="#202020" stroke-width="1.0" stroke-linejoin="round"/>
<path d="M644.0 452.0 L651.2 456.1 L647.3 458.3 L640.2 454.2Z" fill="#fff" stroke="#202020" stroke-width="1.0" stroke-linejoin="round"/>
<path d="M640.2 454.2 L647.3 458.3 L647.3 464.4 L640.2 460.3Z" fill="#fff" stroke="#202020" stroke-width="1.0" stroke-linejoin="round"/>
<path d="M667.0 474.9 L667.0 492.0 L660.3 495.9 L660.3 478.8Z" fill="#fff" stroke="#202020" stroke-width="1.0" stroke-linejoin="round"/>
<path d="M659.8 470.8 L667.0 474.9 L660.3 478.8 L653.1 474.6Z" fill="#fff" stroke="#202020" stroke-width="1.0" stroke-linejoin="round"/>
<path d="M653.1 474.6 L660.3 478.8 L660.3 495.9 L653.1 491.8Z" fill="#fff" stroke="#202020" stroke-width="1.0" stroke-linejoin="round"/>
<path d="M621.5 392.3 L621.5 398.9 L616.7 401.7 L616.7 395.1Z" fill="#fff" stroke="#202020" stroke-width="1.0" stroke-linejoin="round"/>
<path d="M609.1 385.1 L621.5 392.3 L616.7 395.1 L604.3 387.9Z" fill="#fff" stroke="#202020" stroke-width="1.0" stroke-linejoin="round"/>
<path d="M604.3 387.9 L616.7 395.1 L616.7 401.7 L604.3 394.5Z" fill="#fff" stroke="#202020" stroke-width="1.0" stroke-linejoin="round"/>
<path d="M684.9 481.7 L684.9 507.1 L673.9 513.5 L673.9 488.0Z" fill="#fff" stroke="#202020" stroke-width="1.0" stroke-linejoin="round"/>
<path d="M672.0 474.2 L684.9 481.7 L673.9 488.0 L661.0 480.6Z" fill="#fff" stroke="#202020" stroke-width="1.0" stroke-linejoin="round"/>
<path d="M661.0 480.6 L673.9 488.0 L673.9 513.5 L661.0 506.0Z" fill="#fff" stroke="#202020" stroke-width="1.0" stroke-linejoin="round"/>
<path d="M635.9 435.7 L635.9 440.1 L605.7 457.5 L605.7 453.1Z" fill="#fff" stroke="#202020" stroke-width="1.0" stroke-linejoin="round"/>
<path d="M630.1 432.4 L635.9 435.7 L605.7 453.1 L600.0 449.8Z" fill="#fff" stroke="#202020" stroke-width="1.0" stroke-linejoin="round"/>
<path d="M600.0 449.8 L605.7 453.1 L605.7 457.5 L600.0 454.2Z" fill="#fff" stroke="#202020" stroke-width="1.0" stroke-linejoin="round"/>
<path d="M634.0 428.5 L634.0 434.6 L622.5 441.2 L622.5 435.1Z" fill="#fff" stroke="#202020" stroke-width="1.0" stroke-linejoin="round"/>
<path d="M630.1 426.3 L634.0 428.5 L622.5 435.1 L618.6 432.9Z" fill="#fff" stroke="#202020" stroke-width="1.0" stroke-linejoin="round"/>
<path d="M618.6 432.9 L622.5 435.1 L622.5 441.2 L618.6 439.0Z" fill="#fff" stroke="#202020" stroke-width="1.0" stroke-linejoin="round"/>
<path d="M652.6 445.4 L652.6 449.8 L622.5 467.2 L622.5 462.8Z" fill="#fff" stroke="#202020" stroke-width="1.0" stroke-linejoin="round"/>
<path d="M639.7 437.9 L652.6 445.4 L622.5 462.8 L609.5 455.3Z" fill="#fff" stroke="#202020" stroke-width="1.0" stroke-linejoin="round"/>
<path d="M609.5 455.3 L622.5 462.8 L622.5 467.2 L609.5 459.7Z" fill="#fff" stroke="#202020" stroke-width="1.0" stroke-linejoin="round"/>
<path d="M634.0 410.3 L634.0 428.5 L599.5 448.4 L599.5 430.2Z" fill="#fff" stroke="#202020" stroke-width="1.0" stroke-linejoin="round"/>
<path d="M630.1 408.1 L634.0 410.3 L599.5 430.2 L595.7 428.0Z" fill="#fff" stroke="#202020" stroke-width="1.0" stroke-linejoin="round"/>
<path d="M595.7 428.0 L599.5 430.2 L599.5 448.4 L595.7 446.2Z" fill="#fff" stroke="#202020" stroke-width="1.0" stroke-linejoin="round"/>
<path d="M675.1 434.1 L675.1 462.8 L670.4 465.6 L670.4 436.8Z" fill="#fff" stroke="#202020" stroke-width="1.0" stroke-linejoin="round"/>
<path d="M634.0 410.3 L675.1 434.1 L670.4 436.8 L629.2 413.0Z" fill="#fff" stroke="#202020" stroke-width="1.0" stroke-linejoin="round"/>
<path d="M629.2 413.0 L670.4 436.8 L670.4 465.6 L629.2 441.8Z" fill="#fff" stroke="#202020" stroke-width="1.0" stroke-linejoin="round"/>
<path d="M639.0 428.7 L639.0 432.3 L615.1 446.1 L615.1 442.5Z" fill="#fff" stroke="#202020" stroke-width="1.0" stroke-linejoin="round"/>
<path d="M635.8 426.8 L639.0 428.7 L615.1 442.5 L611.9 440.6Z" fill="#fff" stroke="#202020" stroke-width="1.0" stroke-linejoin="round"/>
<path d="M611.9 440.6 L615.1 442.5 L615.1 446.1 L611.9 444.3Z" fill="#fff" stroke="#202020" stroke-width="1.0" stroke-linejoin="round"/>
<path d="M669.4 455.0 L669.4 459.4 L639.2 476.9 L639.2 472.4Z" fill="#fff" stroke="#202020" stroke-width="1.0" stroke-linejoin="round"/>
<path d="M656.4 447.6 L669.4 455.0 L639.2 472.4 L626.3 465.0Z" fill="#fff" stroke="#202020" stroke-width="1.0" stroke-linejoin="round"/>
<path d="M626.3 465.0 L639.2 472.4 L639.2 476.9 L626.3 469.4Z" fill="#fff" stroke="#202020" stroke-width="1.0" stroke-linejoin="round"/>
<path d="M651.3 435.8 L651.3 439.4 L627.4 453.2 L627.4 449.6Z" fill="#fff" stroke="#202020" stroke-width="1.0" stroke-linejoin="round"/>
<path d="M648.2 434.0 L651.3 435.8 L627.4 449.6 L624.3 447.8Z" fill="#fff" stroke="#202020" stroke-width="1.0" stroke-linejoin="round"/>
<path d="M624.3 447.8 L627.4 449.6 L627.4 453.2 L624.3 451.4Z" fill="#fff" stroke="#202020" stroke-width="1.0" stroke-linejoin="round"/>
<path d="M679.0 460.6 L679.0 465.0 L648.8 482.4 L648.8 478.0Z" fill="#fff" stroke="#202020" stroke-width="1.0" stroke-linejoin="round"/>
<path d="M673.2 457.2 L679.0 460.6 L648.8 478.0 L643.0 474.6Z" fill="#fff" stroke="#202020" stroke-width="1.0" stroke-linejoin="round"/>
<path d="M643.0 474.6 L648.8 478.0 L648.8 482.4 L643.0 479.1Z" fill="#fff" stroke="#202020" stroke-width="1.0" stroke-linejoin="round"/>
<path d="M679.0 454.5 L679.0 460.6 L667.5 467.2 L667.5 461.1Z" fill="#fff" stroke="#202020" stroke-width="1.0" stroke-linejoin="round"/>
<path d="M675.1 452.3 L679.0 454.5 L667.5 461.1 L663.7 458.9Z" fill="#fff" stroke="#202020" stroke-width="1.0" stroke-linejoin="round"/>
<path d="M663.7 458.9 L667.5 461.1 L667.5 467.2 L663.7 465.0Z" fill="#fff" stroke="#202020" stroke-width="1.0" stroke-linejoin="round"/>
<path d="M663.7 442.9 L663.7 446.6 L639.8 460.4 L639.8 456.7Z" fill="#fff" stroke="#202020" stroke-width="1.0" stroke-linejoin="round"/>
<path d="M660.5 441.1 L663.7 442.9 L639.8 456.7 L636.6 454.9Z" fill="#fff" stroke="#202020" stroke-width="1.0" stroke-linejoin="round"/>
<path d="M636.6 454.9 L639.8 456.7 L639.8 460.4 L636.6 458.6Z" fill="#fff" stroke="#202020" stroke-width="1.0" stroke-linejoin="round"/>
<path d="M679.0 436.3 L679.0 454.5 L644.5 474.4 L644.5 456.2Z" fill="#fff" stroke="#202020" stroke-width="1.0" stroke-linejoin="round"/>
<path d="M675.1 434.1 L679.0 436.3 L644.5 456.2 L640.7 454.0Z" fill="#fff" stroke="#202020" stroke-width="1.0" stroke-linejoin="round"/>
<path d="M640.7 454.0 L644.5 456.2 L644.5 474.4 L640.7 472.2Z" fill="#fff" stroke="#202020" stroke-width="1.0" stroke-linejoin="round"/>
<path d="M679.0 431.9 L679.0 436.3 L644.5 456.2 L644.5 451.7Z" fill="#fff" stroke="#202020" stroke-width="1.0" stroke-linejoin="round"/>
<path d="M630.1 403.6 L679.0 431.9 L644.5 451.7 L595.7 423.5Z" fill="#fff" stroke="#202020" stroke-width="1.0" stroke-linejoin="round"/>
<path d="M595.7 423.5 L644.5 451.7 L644.5 456.2 L595.7 428.0Z" fill="#fff" stroke="#202020" stroke-width="1.0" stroke-linejoin="round"/>
<path d="M595.7 423.5 L644.5 451.7 L644.5 474.4 L640.7 472.2 L640.7 454.0 L599.5 430.2 L599.5 448.4 L595.7 446.2Z" fill="#fff" stroke="#202020" stroke-width="1.0" stroke-linejoin="round"/>
<path d="M630.1 403.6 L679.0 431.9 L644.5 451.7 L595.7 423.5Z" fill="#fff" stroke="#202020" stroke-width="1.0" stroke-linejoin="round"/>
<path d="M679.0 431.9 L679.0 454.5 L644.5 474.4 L644.5 451.7Z" fill="#fff" stroke="#202020" stroke-width="1.0" stroke-linejoin="round"/>
<path d="M790.2 509.9 L790.2 602.6 L693.2 658.6 L693.2 565.9Z" fill="#fff" stroke="#202020" stroke-width="1.0" stroke-linejoin="round"/>
<path d="M692.7 453.6 L790.2 509.9 L693.2 565.9 L595.7 509.6Z" fill="#fff" stroke="#202020" stroke-width="1.0" stroke-linejoin="round"/>
<path d="M595.7 509.6 L693.2 565.9 L693.2 658.6 L595.7 602.4Z" fill="#fff" stroke="#202020" stroke-width="1.0" stroke-linejoin="round"/>
<path d="M783.0 563.3 L783.0 620.8 L809.5 612.5 L809.5 555.0Z" fill="#fff" stroke="#202020" stroke-width="1.0" stroke-linejoin="round"/>
<path d="M836.1 539.6 L836.1 597.1 L809.5 612.5 L809.5 555.0Z" fill="#fff" stroke="#202020" stroke-width="1.0" stroke-linejoin="round"/>
<path d="M798.6 518.0 L778.9 529.3 L759.4 549.7 L783.0 563.3 L809.5 555.0 L836.1 539.6Z" fill="#fff" stroke="#202020" stroke-width="1.0" stroke-linejoin="round"/>
<path d="M759.4 549.7 L783.0 563.3 L783.0 620.8 L759.4 607.1Z" fill="#fff" stroke="#202020" stroke-width="1.0" stroke-linejoin="round"/>
<path d="M780.5 576.2 L780.3 578.5 L779.6 580.3 L778.5 581.7 L777.0 582.6 L775.2 582.8 L773.3 582.5 L771.2 581.6 L769.1 580.1 L767.2 578.2 L765.4 575.9 L764.0 573.3 L762.8 570.7 L762.2 568.0 L761.9 565.5 L762.2 563.2 L762.8 561.4 L764.0 560.0 L765.4 559.1 L767.2 558.9 L769.1 559.2 L771.2 560.1 L773.3 561.6 L775.2 563.5 L777.0 565.8 L778.5 568.4 L779.6 571.0 L780.3 573.7 L780.5 576.2Z" fill="#fff" stroke="#202020" stroke-width="1.0" stroke-linejoin="round"/>
<path d="M767.8 561.5 L768.3 560.5 L769.0 559.7 L769.8 559.2 L770.8 558.8 L771.8 558.8 L772.9 558.9 L774.1 559.3 L775.3 560.0 L776.5 560.8 L777.7 561.8 L778.7 563.0 L779.8 564.4 L780.6 565.8 L781.4 567.4 L782.0 568.9 L782.4 570.4 L782.6 571.9 L782.7 573.4 L782.6 574.7 L782.2 575.8" fill="none" stroke="#202020" stroke-width="1.0" stroke-linejoin="round"/>
<path d="M770.3 571.4 L779.3 566.2" fill="none" stroke="#202020" stroke-width="1.0" stroke-linejoin="round"/>
<path d="M775.0 568.6 L778.9 575.3" fill="none" stroke="#202020" stroke-width="1.0" stroke-linejoin="round"/>
<path d="M774.1 572.5 L777.9 579.1" fill="none" stroke="#202020" stroke-width="1.0" stroke-linejoin="round"/>
<path d="M780.5 604.9 L780.3 607.2 L779.6 609.1 L778.5 610.4 L777.0 611.3 L775.2 611.6 L773.3 611.2 L771.2 610.3 L769.1 608.8 L767.2 606.9 L765.4 604.6 L764.0 602.1 L762.8 599.4 L762.2 596.7 L761.9 594.2 L762.2 592.0 L762.8 590.1 L764.0 588.7 L765.4 587.9 L767.2 587.6 L769.1 587.9 L771.2 588.9 L773.3 590.3 L775.2 592.2 L777.0 594.5 L778.5 597.1 L779.6 599.8 L780.3 602.4 L780.5 604.9Z" fill="#fff" stroke="#202020" stroke-width="1.0" stroke-linejoin="round"/>
<path d="M767.8 590.2 L768.3 589.2 L769.0 588.4 L769.8 587.9 L770.8 587.6 L771.8 587.5 L772.9 587.7 L774.1 588.1 L775.3 588.7 L776.5 589.5 L777.7 590.6 L778.7 591.8 L779.8 593.1 L780.6 594.6 L781.4 596.1 L782.0 597.6 L782.4 599.2 L782.6 600.7 L782.7 602.1 L782.6 603.4 L782.2 604.5" fill="none" stroke="#202020" stroke-width="1.0" stroke-linejoin="round"/>
<path d="M770.3 600.1 L779.3 594.9" fill="none" stroke="#202020" stroke-width="1.0" stroke-linejoin="round"/>
<path d="M775.0 597.4 L778.9 604.0" fill="none" stroke="#202020" stroke-width="1.0" stroke-linejoin="round"/>
<path d="M774.1 601.2 L777.9 607.9" fill="none" stroke="#202020" stroke-width="1.0" stroke-linejoin="round"/>
<path d="M835.2 541.3 L835.2 596.6 L810.9 610.5 L810.9 555.3Z" fill="none" stroke="#202020" stroke-width="1.0" stroke-linejoin="round"/>
<path d="M832.3 545.2 L832.3 566.7 L813.8 577.4 L813.8 555.8Z" fill="#fff" stroke="#202020" stroke-width="1.0" stroke-linejoin="round"/>
<path d="M823.1 550.5 L823.1 561.3 L813.8 566.6" fill="none" stroke="#202020" stroke-width="1.0" stroke-linejoin="round"/>
<path d="M823.1 561.3 L832.3 566.7" fill="none" stroke="#202020" stroke-width="1.0" stroke-linejoin="round"/>
<path d="M823.1 553.3 L813.8 558.6" fill="none" stroke="#202020" stroke-width="1.0" stroke-linejoin="round"/>
<path d="M832.3 573.9 L832.3 595.4 L813.8 606.1 L813.8 584.6Z" fill="#fff" stroke="#202020" stroke-width="1.0" stroke-linejoin="round"/>
<path d="M823.1 579.2 L823.1 590.0 L813.8 595.3" fill="none" stroke="#202020" stroke-width="1.0" stroke-linejoin="round"/>
<path d="M823.1 590.0 L832.3 595.4" fill="none" stroke="#202020" stroke-width="1.0" stroke-linejoin="round"/>
<path d="M823.1 582.0 L813.8 587.3" fill="none" stroke="#202020" stroke-width="1.0" stroke-linejoin="round"/>
<path d="M787.5 540.3 L800.0 547.5 L787.5 554.7 L775.1 547.5Z" fill="#fff" stroke="#202020" stroke-width="1.0" stroke-linejoin="round"/>
<path d="M787.5 542.0 L797.1 547.5 L787.5 553.0 L778.0 547.5Z" fill="#fff" stroke="#202020" stroke-width="1.0" stroke-linejoin="round"/>
<path d="M791.4 549.7 L789.8 550.3 L788.0 550.6 L786.1 550.5 L784.4 550.1 L783.1 549.3 L782.3 548.3 L782.2 547.2 L782.6 546.2 L783.7 545.3 L785.3 544.7 L787.1 544.4 L789.0 544.5 L790.7 545.0 L792.0 545.7 L792.8 546.7 L792.9 547.8 L792.5 548.8 L791.4 549.7Z" fill="#fff" stroke="#202020" stroke-width="1.0" stroke-linejoin="round"/>
<path d="M789.2 548.5 L788.2 548.8 L786.9 548.8 L785.9 548.5 L785.3 547.9 L785.3 547.2 L785.9 546.6 L786.9 546.2 L788.2 546.2 L789.2 546.6 L789.8 547.2 L789.8 547.9 L789.2 548.5Z" fill="#fff" stroke="#202020" stroke-width="1.0" stroke-linejoin="round"/>
<path d="M810.5 553.3 L833.2 540.2" fill="none" stroke="#202020" stroke-width="1.6" stroke-linejoin="round"/></g>
</svg>
</body></html>
